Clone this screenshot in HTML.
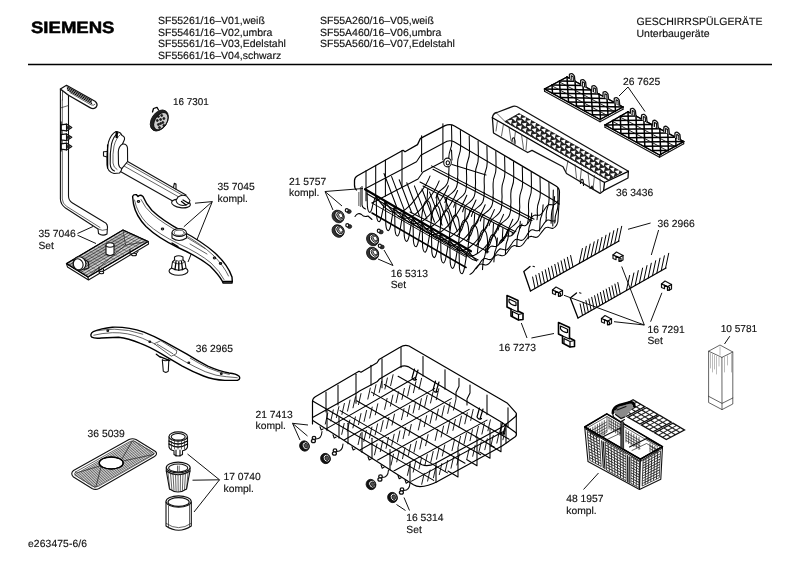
<!DOCTYPE html>
<html><head><meta charset="utf-8">
<style>
html,body{margin:0;padding:0;background:#fff;}
body{width:800px;height:566px;overflow:hidden;position:relative;}
svg{position:absolute;left:0;top:0;will-change:transform;}
text{font-family:"Liberation Sans",sans-serif;font-size:10.3px;fill:#111;}
text.lb{font-size:10.3px;}
text.s{font-size:9.9px;}
text.s2{font-size:10.1px;}
text.h{font-size:10.5px;}
text{stroke:#111;stroke-width:0.15px;text-rendering:geometricPrecision;}
.logo{font-weight:bold;font-size:16.4px;fill:#000;stroke:#000;stroke-width:0.5px;}
.p{fill:none;stroke:#111;stroke-width:1.1;stroke-linecap:round;stroke-linejoin:round;}
.k{fill:none;stroke:#000;stroke-width:1.3;stroke-linecap:round;stroke-linejoin:round;}
.w{fill:#fff;stroke:#111;stroke-width:1.1;stroke-linejoin:round;}
.t{fill:none;stroke:#222;stroke-width:0.7;stroke-linecap:round;stroke-linejoin:round;}
.tw{fill:#fff;stroke:#222;stroke-width:0.7;stroke-linejoin:round;}
.l{fill:none;stroke:#111;stroke-width:1;}
#ubasket .p{stroke-width:1.05;stroke:#000}
#lbasket .p{stroke-width:1.05;stroke:#000}
#ubasket .k{stroke-width:1.3}
#lbasket .k{stroke-width:1.2}
.g{fill:#999;stroke:#111;stroke-width:0.8;}
.d{fill:#222;stroke:#111;stroke-width:0.8;}
</style></head><body>
<svg width="800" height="566" viewBox="0 0 800 566">
<text class="logo" x="31" y="32.8" textLength="83.5" lengthAdjust="spacingAndGlyphs">SIEMENS</text>
<text x="158" y="24.0" class="h">SF55261/16–V01,weiß</text>
<text x="158" y="35.6" class="h">SF55461/16–V02,umbra</text>
<text x="158" y="47.1" class="h">SF55561/16–V03,Edelstahl</text>
<text x="158" y="58.7" class="h">SF55661/16–V04,schwarz</text>
<text x="320" y="24.0" class="h">SF55A260/16–V05,weiß</text>
<text x="320" y="35.6" class="h">SF55A460/16–V06,umbra</text>
<text x="320" y="47.1" class="h">SF55A560/16–V07,Edelstahl</text>
<text x="636.5" y="25.3" class="h">GESCHIRRSPÜLGERÄTE</text>
<text x="636.5" y="37.3" class="h">Unterbaugeräte</text>
<line x1="28" y1="64.5" x2="772" y2="64.5" stroke="#000" stroke-width="1.3"/>
<text x="173" y="105.1" class="s">16 7301</text>
<text x="217.5" y="190.3" class="lb">35 7045</text>
<text x="217.5" y="202.4" class="lb">kompl.</text>
<text x="38.5" y="236.6" class="lb">35 7046</text>
<text x="38.5" y="248.5" class="lb">Set</text>
<text x="289" y="185.0" class="lb">21 5757</text>
<text x="289" y="196.0" class="lb">kompl.</text>
<text x="390.7" y="276.6" class="lb">16 5313</text>
<text x="390.7" y="287.8" class="lb">Set</text>
<text x="623" y="85.0" class="lb">26 7625</text>
<text x="616" y="196" class="lb">36 3436</text>
<text x="657.5" y="227.2" class="lb">36 2966</text>
<text x="647.5" y="332.5" class="lb">16 7291</text>
<text x="647.5" y="344.3" class="lb">Set</text>
<text x="498.7" y="350.5" class="lb">16 7273</text>
<text x="720.7" y="332.3" class="s2">10 5781</text>
<text x="195.8" y="351.6" class="lb">36 2965</text>
<text x="255.5" y="417.7" class="lb">21 7413</text>
<text x="255.5" y="428.7" class="lb">kompl.</text>
<text x="87.6" y="436.5" class="lb">36 5039</text>
<text x="223.5" y="479.7" class="lb">17 0740</text>
<text x="223.5" y="492.2" class="lb">kompl.</text>
<text x="406.3" y="521.3" class="lb">16 5314</text>
<text x="406.3" y="533.3" class="lb">Set</text>
<text x="566.3" y="502.3" class="lb">48 1957</text>
<text x="566.3" y="514.3" class="lb">kompl.</text>
<text x="28" y="547" class="lb" style="letter-spacing:0.12px">e263475-6/6</text>
<path class="w" d="M60.4 89 L60.4 199 Q60.6 204.5 65.5 208 L98 229 L98.5 233.5 Q102.5 236.5 107 234 L107.3 229.5 Q108.5 224 104 222 L72.5 203 Q68.5 200.5 68.5 196 L68.5 92" />
<path class="t" d="M62.3 100 L62.3 199 Q62.5 203.5 66.5 206.3 L100 227.5" />
<path class="t" d="M98 229 Q102 231.5 107.3 229.5" />
<path class="w" d="M60.4 89 L66.5 85.3 L95 101.2 Q98.3 103.8 96.3 107 Q93.8 109.8 90 107.6 L68.5 95.2 Z" style="stroke-width:1.3"/>
<line class="k" x1="67.0" y1="86.9" x2="91.5" y2="100.6" style="stroke-width:1.0"/>
<line class="k" x1="67.2" y1="88.4" x2="91.7" y2="102.1" style="stroke-width:1.0"/>
<line class="k" x1="67.3" y1="89.9" x2="91.8" y2="103.6" style="stroke-width:1.0"/>
<path class="t" d="M70 92.6 L91 104.8 Q93.5 106 95 104.3" />
<path class="t" d="M60.4 89 L62.5 91 L68.5 95.2" />
<path class="t" d="M62.5 91 L62.5 100" />
<line class="t" x1="60.4" y1="108.0" x2="68.5" y2="105.5" />
<path class="w" d="M61 124.9 L66.5 124.1 L71.8 127.5 L66.5 130.9 L61 130.1 Z" style="stroke-width:1.2"/>
<path class="p" d="M66.5 124.1 L66.5 130.9" />
<ellipse class="d" cx="68.3" cy="127.5" rx="1.3" ry="1.5" />
<path class="w" d="M61 134.70000000000002 L66.5 133.9 L71.8 137.3 L66.5 140.70000000000002 L61 139.9 Z" style="stroke-width:1.2"/>
<path class="p" d="M66.5 133.9 L66.5 140.70000000000002" />
<ellipse class="d" cx="68.3" cy="137.3" rx="1.3" ry="1.5" />
<path class="w" d="M61 143.9 L66.5 143.1 L71.8 146.5 L66.5 149.9 L61 149.1 Z" style="stroke-width:1.2"/>
<path class="p" d="M66.5 143.1 L66.5 149.9" />
<ellipse class="d" cx="68.3" cy="146.5" rx="1.3" ry="1.5" />
<path class="k" d="M61 122 L61 151" />
<line class="l" x1="77.5" y1="233.5" x2="93.0" y2="226.5" />
<line class="l" x1="77.5" y1="235.2" x2="96.0" y2="243.5" />
<ellipse class="d" cx="159.3" cy="120.5" rx="7.8" ry="11.5" transform="rotate(33 159.3 120.5)" />
<ellipse class="w" cx="160.8" cy="121.2" rx="6.0" ry="9.6" transform="rotate(33 160.8 121.2)" style="fill:#ccc"/>
<ellipse class="d" cx="158.4" cy="116.5" rx="1.0" ry="1.0" />
<ellipse class="d" cx="161.7" cy="115.5" rx="1.0" ry="1.0" />
<ellipse class="d" cx="163.9" cy="118.5" rx="1.0" ry="1.0" />
<ellipse class="d" cx="157.3" cy="120.5" rx="1.0" ry="1.0" />
<ellipse class="d" cx="160.6" cy="119.5" rx="1.0" ry="1.0" />
<ellipse class="d" cx="162.8" cy="122.5" rx="1.0" ry="1.0" />
<ellipse class="d" cx="158.4" cy="124.5" rx="1.0" ry="1.0" />
<ellipse class="d" cx="160.6" cy="123.5" rx="1.0" ry="1.0" />
<ellipse class="d" cx="163.9" cy="125.5" rx="1.0" ry="1.0" />
<ellipse class="d" cx="159.5" cy="127.5" rx="1.0" ry="1.0" />
<path class="k" d="M152.5 112 L153.5 108.5 L157 107.3 L158.5 110" />
<path class="w" d="M125 160 L186 195 L174 201.8 L119.5 171 Z" />
<path class="t" d="M124 166 L178 196.5 M126 163 L183 195.5" />
<ellipse class="w" cx="181.0" cy="203.5" rx="9.5" ry="4.2" transform="rotate(8 181.0 203.5)" />
<path class="w" d="M176 200.5 Q177 205 183 205.5 Q189 205 190 200.5 L186.5 196 Q182 194 178 197 Z" />
<path class="k" d="M183 200 L189 203.5 M181.5 201.5 L186 205" />
<path class="p" d="M173.5 187.5 L174.3 183.3 L176 184 L176 189" />
<path class="w" d="M116 131.5 Q111 134 108.5 142 Q106.5 152 107 165 Q107.5 172 114 173.5 L119.5 173 Q121.5 171 121.8 168.6 L127.6 161.5 L127.5 148 Q127 143.5 122.5 144 L124.5 139.5 Q125 136.5 122 135.5 Q121 132 116 131.5 Z" />
<path class="p" d="M118 133 Q113.5 136 111.5 144 Q109.8 153 110.2 164 Q110.5 169.5 114.5 171" />
<path class="t" d="M120.5 134.5 Q116 138 114 146 Q112.5 154 113 163 Q113.3 167.5 117 169.5" />
<path class="p" d="M122.5 144 Q118.5 146.5 118.3 152 L118.5 164 Q119 167.5 121.8 168.6" />
<path class="k" d="M116.2 132 L116.2 137.5 M117.2 132 L117.2 137.5" />
<path class="p" d="M107.2 151.5 L103.5 151.8 L103.5 156 L107 157" />
<path class="k" d="M107.6 145 L107.6 168" />
<line class="l" x1="212.3" y1="201.6" x2="195.0" y2="203.2" />
<line class="l" x1="212.3" y1="201.6" x2="183.8" y2="226.8" />
<line class="l" x1="212.3" y1="201.6" x2="188.0" y2="262.0" />
<path class="w" d="M132.6 196.5 Q133.5 194 136.5 194.8 L138 196.5 Q140 194 143 196.5 Q146 204 152 210.5 Q163 221 182 231 Q202 241.5 215 253 Q228 265 232 277 L232.3 281.5 L222.5 281.5 Q219 275 210 266 Q198 256.5 178 247.5 Q158 238 146 226.5 Q136 216 133.5 204 Z" style="stroke-width:1.4;stroke:#000"/>
<path class="t" d="M134.5 200 Q137 213 147 223.5 Q159 234.5 179 244 Q199 253 211 263 Q220 271.5 224 279.5" />
<path class="t" d="M141 199.5 Q145 208 152 214 Q163 223.5 182 233.5 Q200 243 213 255 Q224 266 228.5 276" />
<path class="k" d="M222.5 281.5 L223 283 L232 283 L232.3 281.5" />
<path class="k" d="M172 243 L178 246.5" />
<ellipse class="p" cx="138.5" cy="201.5" rx="1.2" ry="0.9" />
<ellipse class="p" cx="162.5" cy="229.0" rx="1.2" ry="0.9" />
<ellipse class="p" cx="214.5" cy="258.0" rx="1.2" ry="0.9" />
<ellipse class="p" cx="220.5" cy="263.5" rx="1.2" ry="0.9" />
<path class="t" d="M186 237 L205 248.5 M190 244 L207 254" />
<path class="w" d="M172 232.5 L172 238 Q179 243 186.5 238 L186.5 232.5" />
<ellipse class="w" cx="179.2" cy="232.5" rx="7.2" ry="3.9" />
<ellipse class="t" cx="179.2" cy="232.8" rx="5.0" ry="2.6" />
<ellipse class="w" cx="178.5" cy="271.0" rx="9.5" ry="4.2" />
<path class="w" d="M171.5 268 L172.5 262 L174.5 260 L174.5 257 Q178.5 254.5 183 257 L183 260 L185 262 L186 268 Q179 272.5 171.5 268 Z" />
<path class="t" d="M174.5 260 Q178.5 262.5 183 260 M172.5 262 Q179 266 185 262" />
<path class="k" d="M176 261.5 L175 269.5 M178.8 262 L178.8 270.3 M181.5 261.5 L182.5 269.5" />
<path class="g" d="M66.5 263.6 L123 230 L148.2 241.5 L88 277 Z" style="fill:#cfcfcf"/>
<path class="g" d="M69.5 264 L122.5 233 L124 245.5 L86 270 Z" style="fill:#b4b4b4;stroke:none"/>
<line class="t" x1="69.0" y1="263.5" x2="88.0" y2="275.5" style="stroke:#666;stroke-width:0.55"/>
<line class="t" x1="73.2" y1="261.0" x2="92.5" y2="272.9" style="stroke:#666;stroke-width:0.55"/>
<line class="t" x1="77.3" y1="258.6" x2="97.0" y2="270.3" style="stroke:#666;stroke-width:0.55"/>
<line class="t" x1="81.5" y1="256.1" x2="101.5" y2="267.7" style="stroke:#666;stroke-width:0.55"/>
<line class="t" x1="85.6" y1="253.7" x2="106.0" y2="265.0" style="stroke:#666;stroke-width:0.55"/>
<line class="t" x1="89.8" y1="251.2" x2="110.5" y2="262.4" style="stroke:#666;stroke-width:0.55"/>
<line class="t" x1="93.9" y1="248.7" x2="115.0" y2="259.8" style="stroke:#666;stroke-width:0.55"/>
<line class="t" x1="98.1" y1="246.3" x2="119.5" y2="257.2" style="stroke:#666;stroke-width:0.55"/>
<line class="t" x1="102.2" y1="243.8" x2="124.0" y2="254.6" style="stroke:#666;stroke-width:0.55"/>
<line class="t" x1="106.4" y1="241.3" x2="128.5" y2="252.0" style="stroke:#666;stroke-width:0.55"/>
<line class="t" x1="110.5" y1="238.9" x2="133.0" y2="249.3" style="stroke:#666;stroke-width:0.55"/>
<line class="t" x1="114.7" y1="236.4" x2="137.5" y2="246.7" style="stroke:#666;stroke-width:0.55"/>
<line class="t" x1="118.8" y1="234.0" x2="142.0" y2="244.1" style="stroke:#666;stroke-width:0.55"/>
<line class="t" x1="123.0" y1="231.5" x2="146.5" y2="241.5" style="stroke:#666;stroke-width:0.55"/>
<line class="t" x1="68.9" y1="265.1" x2="125.8" y2="231.3" style="stroke:#222;stroke-width:0.7"/>
<line class="t" x1="71.3" y1="266.6" x2="128.6" y2="232.6" style="stroke:#222;stroke-width:0.7"/>
<line class="t" x1="73.7" y1="268.1" x2="131.4" y2="233.8" style="stroke:#222;stroke-width:0.7"/>
<line class="t" x1="76.1" y1="269.6" x2="134.2" y2="235.1" style="stroke:#222;stroke-width:0.7"/>
<line class="t" x1="78.4" y1="271.0" x2="137.0" y2="236.4" style="stroke:#222;stroke-width:0.7"/>
<line class="t" x1="80.8" y1="272.5" x2="139.8" y2="237.7" style="stroke:#222;stroke-width:0.7"/>
<line class="t" x1="83.2" y1="274.0" x2="142.6" y2="238.9" style="stroke:#222;stroke-width:0.7"/>
<line class="t" x1="85.6" y1="275.5" x2="145.4" y2="240.2" style="stroke:#222;stroke-width:0.7"/>
<path class="k" d="M66.5 263.6 L123 230 L148.2 241.5 L88 277 Z" />
<path class="p" d="M66.5 263.6 L67.5 267 L88.5 280 L88 277 M88.5 280 L148.6 244 L148.2 241.5" />
<path class="t" d="M123 230 L125.5 245 L148.2 241.5 M125.5 245 L88 277" />
<path class="w" d="M106 245 L106 254 Q110 257 114 254 L114 245" />
<ellipse class="w" cx="110.0" cy="245.0" rx="4.0" ry="2.2" />
<ellipse class="w" cx="79.5" cy="263.5" rx="6.3" ry="6.8" transform="rotate(-20 79.5 263.5)" />
<ellipse class="w" cx="78.2" cy="264.3" rx="4.8" ry="5.6" transform="rotate(-20 78.2 264.3)" />
<path class="p" d="M84.5 259.5 L88.5 262 L88.8 268 L84 269.5" />
<path class="p" d="M99 267.5 L99 272 L103 273 L103.5 269 M130 249.5 L130 254 L135 255 L138 251.5" />
<ellipse class="w" cx="101.5" cy="272.5" rx="2.2" ry="1.3" />
<ellipse class="w" cx="134.0" cy="254.5" rx="2.5" ry="1.3" />
<g transform="translate(0.3,1.2)">
<path class="w" d="M90.6 333.5 Q91 331.5 93 330.5 Q101 327 112 326 Q128 325.5 143.7 331 Q155 335.5 165 341 L186.2 352.7 Q198 360 207.5 365 Q219 370 228.7 371.8 Q236 372.5 238.8 375 Q240.5 377.5 237.5 379 L224.5 379.2 Q213 378.5 203.2 374.8 Q192 370.5 182 365 L160.7 352.5 Q149 345.5 139.5 342 Q128 337 118.2 336 L101.2 336.8 Q94 337.5 91.5 336 Q90.3 335 90.6 333.5 Z" style="stroke-width:1.4;stroke:#000"/>
<path class="t" d="M93.5 334 Q101 332 112 331.5 Q127 331 142 337 Q153 341.5 163 347.5 L184 360 Q195 366 205 370.5 Q216 375 226 375.5 L237 376.5" />
<path class="t" d="M97 329.5 Q105 328.2 114 328 Q128 328 142.5 333 M190 357 Q200 363 208 366.8 Q219 371.5 229 373.2" />
<path class="tw" d="M154 342.5 L160.5 339.5 L176.5 349.5 L176 352.5 L171 355 Z" />
<path class="t" d="M157 343 L172.5 352.5" />
<ellipse class="p" cx="149.5" cy="340.5" rx="0.9" ry="0.7" />
<ellipse class="p" cx="188.5" cy="361.5" rx="0.9" ry="0.7" />
<ellipse class="p" cx="107.5" cy="329.5" rx="0.9" ry="0.7" />
<ellipse class="p" cx="221.0" cy="372.5" rx="0.9" ry="0.7" />
<path class="w" d="M162 358.5 L163 370 Q165.5 372.5 168 370 L168.5 358.5 Q165 360.5 162 358.5 Z" />
<path class="k" d="M159.5 355.5 L169.5 359.5 M156 353 L160 356" />
</g>
<path class="w" d="M73.5 470.5 L129 439.5 Q132.5 438 136 439.5 L155.5 451.5 Q158 454 154.5 456.5 L99 488.5 Q95.5 490.3 92 488.5 L73.5 477 Q70 473.5 73.5 470.5 Z" />
<line class="t" x1="74.8" y1="474.8" x2="133.9" y2="440.6" style="stroke:#222;stroke-width:0.7"/>
<line class="t" x1="76.1" y1="475.7" x2="135.3" y2="441.5" style="stroke:#222;stroke-width:0.7"/>
<line class="t" x1="77.4" y1="476.5" x2="136.6" y2="442.3" style="stroke:#222;stroke-width:0.7"/>
<line class="t" x1="78.7" y1="477.4" x2="138.0" y2="443.1" style="stroke:#222;stroke-width:0.7"/>
<line class="t" x1="80.0" y1="478.2" x2="139.4" y2="444.0" style="stroke:#222;stroke-width:0.7"/>
<line class="t" x1="81.3" y1="479.0" x2="140.8" y2="444.8" style="stroke:#222;stroke-width:0.7"/>
<line class="t" x1="82.6" y1="479.9" x2="142.2" y2="445.6" style="stroke:#222;stroke-width:0.7"/>
<line class="t" x1="83.9" y1="480.7" x2="143.6" y2="446.5" style="stroke:#222;stroke-width:0.7"/>
<line class="t" x1="85.1" y1="481.6" x2="144.9" y2="447.3" style="stroke:#222;stroke-width:0.7"/>
<line class="t" x1="86.4" y1="482.4" x2="146.3" y2="448.2" style="stroke:#222;stroke-width:0.7"/>
<line class="t" x1="87.7" y1="483.3" x2="147.7" y2="449.0" style="stroke:#222;stroke-width:0.7"/>
<line class="t" x1="89.0" y1="484.1" x2="149.1" y2="449.8" style="stroke:#222;stroke-width:0.7"/>
<line class="t" x1="90.3" y1="484.9" x2="150.5" y2="450.7" style="stroke:#222;stroke-width:0.7"/>
<line class="t" x1="91.6" y1="485.8" x2="151.9" y2="451.5" style="stroke:#222;stroke-width:0.7"/>
<line class="t" x1="92.9" y1="486.6" x2="153.2" y2="452.3" style="stroke:#222;stroke-width:0.7"/>
<line class="t" x1="94.2" y1="487.5" x2="154.6" y2="453.2" style="stroke:#222;stroke-width:0.7"/>
<path class="t" d="M76 473 L100 466 M132 441.5 L122 459 M153.5 454.5 L123 461 M96 486.5 L101 467" />
<ellipse class="w" cx="111.2" cy="463.0" rx="12.0" ry="6.0" />
<ellipse class="k" cx="111.2" cy="463.0" rx="12.0" ry="6.0" />
<path class="t" d="M75.5 472 L130 441.5 Q132.5 440.3 135 441.5 L153 452.5 Q154.5 454 152.5 455.3 L98.5 486.3 Q95.5 487.8 93 486.3 L75.5 475.5 Q73.5 473.5 75.5 472 Z" />
<path class="w" d="M169 436.5 L169 447 Q170 450 174 450.8 L174 454.5 Q178 457.5 182.5 454.5 L182.5 450.8 Q186.5 450 187.5 447 L187.5 436.5" />
<ellipse class="w" cx="178.2" cy="436.5" rx="9.2" ry="4.6" />
<ellipse class="p" cx="178.2" cy="436.8" rx="7.0" ry="3.3" />
<path class="k" d="M169 441 Q178 447 187.5 441 M169 444 Q178 450 187.5 444" />
<line class="t" x1="171.5" y1="441.0" x2="171.5" y2="449.0" />
<line class="t" x1="174.5" y1="441.0" x2="174.5" y2="449.0" />
<line class="t" x1="178.0" y1="441.0" x2="178.0" y2="449.0" />
<line class="t" x1="181.5" y1="441.0" x2="181.5" y2="449.0" />
<line class="t" x1="184.5" y1="441.0" x2="184.5" y2="449.0" />
<path class="p" d="M176 450 L176 456 M180 450 L180 456" />
<path class="w" d="M166.3 467.5 L166.3 471 L169.5 489 Q178 495 186.5 489 L190 471 L190 467.5" />
<ellipse class="w" cx="178.2" cy="467.5" rx="11.9" ry="5.4" />
<ellipse class="p" cx="178.2" cy="468.0" rx="9.6" ry="4.0" />
<path class="p" d="M166.3 471 Q178 478.5 190 471" />
<line class="t" x1="168.0" y1="472.6" x2="169.8" y2="489.1" />
<line class="t" x1="170.5" y1="473.2" x2="171.9" y2="489.7" />
<line class="t" x1="173.0" y1="473.8" x2="174.0" y2="490.3" />
<line class="t" x1="175.5" y1="474.4" x2="176.1" y2="490.9" />
<line class="t" x1="178.0" y1="475.0" x2="178.2" y2="491.5" />
<line class="t" x1="180.5" y1="474.4" x2="180.3" y2="490.9" />
<line class="t" x1="183.0" y1="473.8" x2="182.4" y2="490.3" />
<line class="t" x1="185.5" y1="473.2" x2="184.5" y2="489.7" />
<line class="t" x1="188.0" y1="472.6" x2="186.6" y2="489.1" />
<path class="t" d="M177.5 466 L177.5 472 M179.2 466 L179.2 472" />
<path class="w" d="M166 501.5 L166 526 Q178.5 534.5 191.3 526 L191.3 501.5" />
<ellipse class="w" cx="178.6" cy="501.5" rx="12.6" ry="5.6" />
<ellipse class="p" cx="178.6" cy="502.0" rx="10.6" ry="4.4" />
<path class="t" d="M166.3 523.5 Q178.5 532 191 523.5" />
<line class="t" x1="168.5" y1="506.0" x2="168.5" y2="527.5" />
<line class="t" x1="189.5" y1="505.0" x2="189.5" y2="526.5" />
<line class="l" x1="219.5" y1="479.8" x2="187.5" y2="454.0" />
<line class="l" x1="219.5" y1="479.8" x2="192.5" y2="480.2" />
<line class="l" x1="219.5" y1="479.8" x2="194.0" y2="512.0" />
<path class="tw" d="M708.6 351.2 L720 345 L732.8 352 L721.9 357.4 Z" />
<path class="t" d="M708.6 351.2 L708.6 402.5 L722 409.6 L732.8 404 L732.8 352 M721.9 357.4 L722 409.6 M708.6 396.3 L722 403.4 L732.8 398" />
<path class="t" d="M710.5 353.5 L710.5 368 M712.5 354.5 L712.5 372 M714.5 355.5 L714.5 369 M716.5 356.5 L716.5 374 M719 357.5 L719 366 M720 347 L720 355 M724.5 357.5 L724.5 372 M727.5 356 L727.5 365 M731.5 354 L731.5 372" style="stroke:#777;stroke-width:0.5"/>
<line class="l" x1="729.8" y1="336.2" x2="724.5" y2="344.0" />
<path class="w" d="M544.5 89.0 L567.0 77.0 L623.0 107.0 L600.0 119.5 Z" />
<line class="k" x1="544.5" y1="89.0" x2="544.5" y2="89.0" style="stroke-width:1.5"/>
<line class="k" x1="567.0" y1="77.0" x2="567.0" y2="77.0" style="stroke-width:1.5"/>
<line class="k" x1="552.0" y1="85.0" x2="552.5" y2="93.3" style="stroke-width:1.5"/>
<line class="k" x1="575.0" y1="81.3" x2="559.5" y2="81.0" style="stroke-width:1.5"/>
<line class="k" x1="559.5" y1="81.0" x2="560.5" y2="97.6" style="stroke-width:1.5"/>
<line class="k" x1="583.0" y1="85.6" x2="552.0" y2="85.0" style="stroke-width:1.5"/>
<line class="k" x1="567.0" y1="77.0" x2="568.5" y2="101.9" style="stroke-width:1.5"/>
<line class="k" x1="591.0" y1="89.9" x2="544.5" y2="89.0" style="stroke-width:1.5"/>
<line class="k" x1="575.0" y1="81.3" x2="576.5" y2="106.1" style="stroke-width:1.5"/>
<line class="k" x1="599.0" y1="94.1" x2="552.5" y2="93.3" style="stroke-width:1.5"/>
<line class="k" x1="583.0" y1="85.6" x2="584.5" y2="110.4" style="stroke-width:1.5"/>
<line class="k" x1="607.0" y1="98.4" x2="560.5" y2="97.6" style="stroke-width:1.5"/>
<line class="k" x1="591.0" y1="89.9" x2="592.5" y2="114.7" style="stroke-width:1.5"/>
<line class="k" x1="615.0" y1="102.7" x2="568.5" y2="101.9" style="stroke-width:1.5"/>
<line class="k" x1="599.0" y1="94.1" x2="600.5" y2="119.0" style="stroke-width:1.5"/>
<line class="k" x1="623.0" y1="107.0" x2="576.5" y2="106.1" style="stroke-width:1.5"/>
<line class="k" x1="607.0" y1="98.4" x2="608.0" y2="115.0" style="stroke-width:1.5"/>
<line class="k" x1="615.5" y1="111.0" x2="584.5" y2="110.4" style="stroke-width:1.5"/>
<line class="k" x1="615.0" y1="102.7" x2="615.5" y2="111.0" style="stroke-width:1.5"/>
<line class="k" x1="608.0" y1="115.0" x2="592.5" y2="114.7" style="stroke-width:1.5"/>
<line class="k" x1="623.0" y1="107.0" x2="623.0" y2="107.0" style="stroke-width:1.5"/>
<line class="k" x1="600.5" y1="119.0" x2="600.5" y2="119.0" style="stroke-width:1.5"/>
<line class="p" x1="559.6" y1="82.0" x2="615.6" y2="112.0" style="stroke-width:0.9"/>
<line class="p" x1="552.1" y1="85.9" x2="608.1" y2="115.9" style="stroke-width:0.9"/>
<path class="k" d="M544.5 89.0 L567.0 77.0 L623.0 107.0 L600.0 119.5 Z" />
<path class="p" d="M544.5 91.2 L600.0 121.7 L623.0 109.2" />
<line class="p" x1="544.5" y1="89.0" x2="544.5" y2="91.2" />
<line class="p" x1="600.0" y1="119.5" x2="600.0" y2="121.7" />
<line class="p" x1="623.0" y1="107.0" x2="623.0" y2="109.2" />
<path class="w" d="M569.3 79.0 L569.5 74.3 Q572.0 72.2 574.4 76.0 L575.0 81.7" style="stroke-width:1.3"/>
<path class="p" d="M571.1 79.7 L571.3 75.7 L573.2 76.8 L573.4 80.8" />
<path class="w" d="M580.5 85.0 L580.7 80.3 Q583.2 78.2 585.6 82.0 L586.2 87.7" style="stroke-width:1.3"/>
<path class="p" d="M582.3 85.7 L582.5 81.7 L584.4 82.8 L584.6 86.8" />
<path class="w" d="M591.7 91.0 L591.9 86.3 Q594.4 84.2 596.8 88.0 L597.4 93.7" style="stroke-width:1.3"/>
<path class="p" d="M593.5 91.7 L593.7 87.7 L595.6 88.8 L595.8 92.8" />
<path class="w" d="M602.9 97.0 L603.1 92.3 Q605.6 90.2 608.0 94.0 L608.6 99.7" style="stroke-width:1.3"/>
<path class="p" d="M604.7 97.7 L604.9 93.7 L606.8 94.8 L607.0 98.8" />
<path class="w" d="M614.1 103.0 L614.3 98.3 Q616.8 96.2 619.2 100.0 L619.8 105.7" style="stroke-width:1.3"/>
<path class="p" d="M615.9 103.7 L616.1 99.7 L618.0 100.8 L618.2 104.8" />
<path class="w" d="M605.0 125.0 L628.0 111.8 L683.7 141.6 L659.5 155.0 Z" />
<line class="k" x1="605.0" y1="125.0" x2="605.0" y2="125.0" style="stroke-width:1.5"/>
<line class="k" x1="628.0" y1="111.8" x2="628.0" y2="111.8" style="stroke-width:1.5"/>
<line class="k" x1="612.7" y1="120.6" x2="613.0" y2="129.3" style="stroke-width:1.5"/>
<line class="k" x1="636.0" y1="116.1" x2="620.3" y2="116.2" style="stroke-width:1.5"/>
<line class="k" x1="620.3" y1="116.2" x2="620.9" y2="133.5" style="stroke-width:1.5"/>
<line class="k" x1="643.9" y1="120.3" x2="612.7" y2="120.6" style="stroke-width:1.5"/>
<line class="k" x1="628.0" y1="111.8" x2="628.9" y2="137.8" style="stroke-width:1.5"/>
<line class="k" x1="651.9" y1="124.6" x2="605.0" y2="125.0" style="stroke-width:1.5"/>
<line class="k" x1="636.0" y1="116.1" x2="636.8" y2="142.0" style="stroke-width:1.5"/>
<line class="k" x1="659.8" y1="128.8" x2="613.0" y2="129.3" style="stroke-width:1.5"/>
<line class="k" x1="643.9" y1="120.3" x2="644.8" y2="146.3" style="stroke-width:1.5"/>
<line class="k" x1="667.8" y1="133.1" x2="620.9" y2="133.5" style="stroke-width:1.5"/>
<line class="k" x1="651.9" y1="124.6" x2="652.7" y2="150.5" style="stroke-width:1.5"/>
<line class="k" x1="675.7" y1="137.3" x2="628.9" y2="137.8" style="stroke-width:1.5"/>
<line class="k" x1="659.8" y1="128.8" x2="660.7" y2="154.8" style="stroke-width:1.5"/>
<line class="k" x1="683.7" y1="141.6" x2="636.8" y2="142.0" style="stroke-width:1.5"/>
<line class="k" x1="667.8" y1="133.1" x2="668.4" y2="150.4" style="stroke-width:1.5"/>
<line class="k" x1="676.0" y1="146.0" x2="644.8" y2="146.3" style="stroke-width:1.5"/>
<line class="k" x1="675.7" y1="137.3" x2="676.0" y2="146.0" style="stroke-width:1.5"/>
<line class="k" x1="668.4" y1="150.4" x2="652.7" y2="150.5" style="stroke-width:1.5"/>
<line class="k" x1="683.7" y1="141.6" x2="683.7" y2="141.6" style="stroke-width:1.5"/>
<line class="k" x1="660.7" y1="154.8" x2="660.7" y2="154.8" style="stroke-width:1.5"/>
<line class="p" x1="620.4" y1="117.2" x2="676.1" y2="147.0" style="stroke-width:0.9"/>
<line class="p" x1="612.8" y1="121.5" x2="668.5" y2="151.3" style="stroke-width:0.9"/>
<path class="k" d="M605.0 125.0 L628.0 111.8 L683.7 141.6 L659.5 155.0 Z" />
<path class="p" d="M605.0 127.2 L659.5 157.2 L683.7 143.8" />
<line class="p" x1="605.0" y1="125.0" x2="605.0" y2="127.2" />
<line class="p" x1="659.5" y1="155.0" x2="659.5" y2="157.2" />
<line class="p" x1="683.7" y1="141.6" x2="683.7" y2="143.8" />
<path class="w" d="M630.3 113.8 L630.5 109.1 Q633.0 107.0 635.4 110.8 L636.0 116.5" style="stroke-width:1.3"/>
<path class="p" d="M632.1 114.5 L632.3 110.5 L634.2 111.6 L634.4 115.6" />
<path class="w" d="M641.4 119.8 L641.6 115.0 Q644.1 113.0 646.5 116.8 L647.1 122.5" style="stroke-width:1.3"/>
<path class="p" d="M643.2 120.5 L643.4 116.5 L645.3 117.5 L645.5 121.5" />
<path class="w" d="M652.6 125.7 L652.8 121.0 Q655.3 118.9 657.7 122.7 L658.3 128.4" style="stroke-width:1.3"/>
<path class="p" d="M654.4 126.4 L654.6 122.4 L656.5 123.5 L656.7 127.5" />
<path class="w" d="M663.7 131.7 L663.9 127.0 Q666.4 124.9 668.8 128.7 L669.4 134.4" style="stroke-width:1.3"/>
<path class="p" d="M665.5 132.4 L665.7 128.4 L667.6 129.5 L667.8 133.5" />
<path class="w" d="M674.8 137.6 L675.0 132.9 Q677.5 130.8 679.9 134.6 L680.5 140.3" style="stroke-width:1.3"/>
<path class="p" d="M676.6 138.3 L676.8 134.3 L678.7 135.4 L678.9 139.4" />
<line class="l" x1="628.0" y1="87.0" x2="619.0" y2="96.0" />
<line class="l" x1="628.0" y1="87.0" x2="645.0" y2="111.5" />
<path class="w" d="M492.4 117.7 Q493 113 497 112.5 L513 106.3 Q516 105.6 518.5 107.5 L628.4 171.3 L628 178 L603.6 190.7 L600 193.4 L566.5 173.5 L563 166.8 L532 150.4 L527.7 152.5 L493.5 133 Z" style="stroke-width:1.3"/>
<path class="k" d="M492.4 117.7 L604.5 182.5 L628.4 171.3 M604.5 182.5 L603.6 190.7" />
<path class="d" d="M505.0 121.5 L519.0 113.5 L622.0 172.2 L608.0 180.0 Z" style="fill:#222"/>
<path class="w" d="M516.6 115.2 L521.4 114.4 L520.3 118.8 Z" style="stroke:none"/>
<path class="w" d="M512.0 117.9 L516.8 117.1 L515.7 121.5 Z" style="stroke:none"/>
<path class="w" d="M507.3 120.6 L512.1 119.8 L511.0 124.2 Z" style="stroke:none"/>
<path class="w" d="M521.5 118.0 L526.3 117.2 L525.2 121.6 Z" style="stroke:none"/>
<path class="w" d="M516.9 120.7 L521.7 119.9 L520.6 124.3 Z" style="stroke:none"/>
<path class="w" d="M512.2 123.4 L517.0 122.6 L515.9 127.0 Z" style="stroke:none"/>
<path class="w" d="M526.4 120.8 L531.2 120.0 L530.1 124.4 Z" style="stroke:none"/>
<path class="w" d="M521.8 123.5 L526.6 122.7 L525.5 127.1 Z" style="stroke:none"/>
<path class="w" d="M517.1 126.2 L521.9 125.4 L520.8 129.8 Z" style="stroke:none"/>
<path class="w" d="M531.3 123.6 L536.1 122.8 L535.0 127.2 Z" style="stroke:none"/>
<path class="w" d="M526.7 126.3 L531.5 125.5 L530.4 129.9 Z" style="stroke:none"/>
<path class="w" d="M522.0 128.9 L526.8 128.1 L525.7 132.5 Z" style="stroke:none"/>
<path class="w" d="M536.2 126.4 L541.0 125.6 L539.9 130.0 Z" style="stroke:none"/>
<path class="w" d="M531.6 129.1 L536.4 128.3 L535.3 132.7 Z" style="stroke:none"/>
<path class="w" d="M526.9 131.7 L531.7 130.9 L530.6 135.3 Z" style="stroke:none"/>
<path class="w" d="M541.1 129.2 L545.9 128.4 L544.8 132.8 Z" style="stroke:none"/>
<path class="w" d="M536.5 131.9 L541.3 131.1 L540.2 135.5 Z" style="stroke:none"/>
<path class="w" d="M531.8 134.5 L536.6 133.7 L535.5 138.1 Z" style="stroke:none"/>
<path class="w" d="M546.0 132.0 L550.8 131.2 L549.7 135.6 Z" style="stroke:none"/>
<path class="w" d="M541.4 134.7 L546.2 133.9 L545.1 138.3 Z" style="stroke:none"/>
<path class="w" d="M536.7 137.3 L541.5 136.5 L540.4 140.9 Z" style="stroke:none"/>
<path class="w" d="M551.0 134.8 L555.8 134.0 L554.7 138.4 Z" style="stroke:none"/>
<path class="w" d="M546.3 137.5 L551.1 136.7 L550.0 141.1 Z" style="stroke:none"/>
<path class="w" d="M541.6 140.1 L546.4 139.3 L545.3 143.7 Z" style="stroke:none"/>
<path class="w" d="M555.9 137.6 L560.7 136.8 L559.6 141.2 Z" style="stroke:none"/>
<path class="w" d="M551.2 140.3 L556.0 139.5 L554.9 143.9 Z" style="stroke:none"/>
<path class="w" d="M546.5 142.9 L551.3 142.1 L550.2 146.5 Z" style="stroke:none"/>
<path class="w" d="M560.8 140.4 L565.6 139.6 L564.5 144.0 Z" style="stroke:none"/>
<path class="w" d="M556.1 143.1 L560.9 142.3 L559.8 146.7 Z" style="stroke:none"/>
<path class="w" d="M551.4 145.7 L556.2 144.9 L555.1 149.3 Z" style="stroke:none"/>
<path class="w" d="M565.7 143.2 L570.5 142.4 L569.4 146.8 Z" style="stroke:none"/>
<path class="w" d="M561.0 145.8 L565.8 145.0 L564.7 149.4 Z" style="stroke:none"/>
<path class="w" d="M556.3 148.5 L561.1 147.7 L560.0 152.1 Z" style="stroke:none"/>
<path class="w" d="M570.6 146.0 L575.4 145.2 L574.3 149.6 Z" style="stroke:none"/>
<path class="w" d="M565.9 148.6 L570.7 147.8 L569.6 152.2 Z" style="stroke:none"/>
<path class="w" d="M561.2 151.3 L566.0 150.5 L564.9 154.9 Z" style="stroke:none"/>
<path class="w" d="M575.5 148.8 L580.3 148.0 L579.2 152.4 Z" style="stroke:none"/>
<path class="w" d="M570.8 151.4 L575.6 150.6 L574.5 155.0 Z" style="stroke:none"/>
<path class="w" d="M566.1 154.1 L570.9 153.3 L569.8 157.7 Z" style="stroke:none"/>
<path class="w" d="M580.4 151.6 L585.2 150.8 L584.1 155.2 Z" style="stroke:none"/>
<path class="w" d="M575.7 154.2 L580.5 153.4 L579.4 157.8 Z" style="stroke:none"/>
<path class="w" d="M571.0 156.9 L575.8 156.1 L574.7 160.5 Z" style="stroke:none"/>
<path class="w" d="M585.3 154.4 L590.1 153.6 L589.0 158.0 Z" style="stroke:none"/>
<path class="w" d="M580.6 157.0 L585.4 156.2 L584.3 160.6 Z" style="stroke:none"/>
<path class="w" d="M576.0 159.7 L580.8 158.9 L579.7 163.3 Z" style="stroke:none"/>
<path class="w" d="M590.2 157.2 L595.0 156.4 L593.9 160.8 Z" style="stroke:none"/>
<path class="w" d="M585.5 159.8 L590.3 159.0 L589.2 163.4 Z" style="stroke:none"/>
<path class="w" d="M580.9 162.5 L585.7 161.7 L584.6 166.1 Z" style="stroke:none"/>
<path class="w" d="M595.1 160.0 L599.9 159.2 L598.8 163.6 Z" style="stroke:none"/>
<path class="w" d="M590.4 162.6 L595.2 161.8 L594.1 166.2 Z" style="stroke:none"/>
<path class="w" d="M585.8 165.3 L590.6 164.5 L589.5 168.9 Z" style="stroke:none"/>
<path class="w" d="M600.0 162.8 L604.8 161.9 L603.7 166.3 Z" style="stroke:none"/>
<path class="w" d="M595.3 165.4 L600.1 164.6 L599.0 169.0 Z" style="stroke:none"/>
<path class="w" d="M590.7 168.1 L595.5 167.3 L594.4 171.7 Z" style="stroke:none"/>
<path class="w" d="M604.9 165.5 L609.7 164.7 L608.6 169.1 Z" style="stroke:none"/>
<path class="w" d="M600.2 168.2 L605.0 167.4 L603.9 171.8 Z" style="stroke:none"/>
<path class="w" d="M595.6 170.9 L600.4 170.1 L599.3 174.5 Z" style="stroke:none"/>
<path class="w" d="M609.8 168.3 L614.6 167.5 L613.5 171.9 Z" style="stroke:none"/>
<path class="w" d="M605.1 171.0 L609.9 170.2 L608.8 174.6 Z" style="stroke:none"/>
<path class="w" d="M600.5 173.7 L605.3 172.9 L604.2 177.3 Z" style="stroke:none"/>
<path class="w" d="M614.7 171.1 L619.5 170.3 L618.4 174.7 Z" style="stroke:none"/>
<path class="w" d="M610.0 173.8 L614.8 173.0 L613.7 177.4 Z" style="stroke:none"/>
<path class="w" d="M605.4 176.5 L610.2 175.7 L609.1 180.1 Z" style="stroke:none"/>
<path class="t" d="M497 113.5 L505 121.5 M505 121.5 L608 180 L622 172.2" />
<path class="t" d="M497.5 120.5 L496 131 M503.5 124 L501.5 136 M509 127 L511 140.5 M515.5 131 L514 143 M521.5 134.5 L523.5 148.5 M527 138 L526 150" />
<path class="p" d="M512 142 Q512 137 514.3 138 Q515.3 140.5 515 144" />
<path class="t" d="M568 160.5 L566 171.5 M575 164.5 L576.5 178 M581.5 168 L580 182 M588 172 L589.5 186.5 M594.5 175.5 L593 189 M600 179 L600.5 192" />
<path class="p" d="M580.5 183.5 Q580.5 178.5 582.8 179.5 Q583.8 182 583.5 185.5" />
<path class="p" d="M590 188.5 L592 186 L593.5 189.5" />
<line class="k" x1="530.5" y1="291.0" x2="619.0" y2="241.0" style="stroke-width:1.3"/>
<path class="k" d="M530.5 291.0 L523.8 271.5 L530.0 266.5" />
<line class="p" x1="533.0" y1="266.2" x2="534.5" y2="266.7" />
<line class="k" x1="535.0" y1="288.5" x2="532.6" y2="277.0" style="stroke-width:1.0"/>
<line class="k" x1="538.2" y1="286.7" x2="535.8" y2="275.2" style="stroke-width:1.0"/>
<line class="k" x1="541.3" y1="284.9" x2="538.9" y2="273.4" style="stroke-width:1.0"/>
<line class="k" x1="544.5" y1="283.1" x2="542.1" y2="271.6" style="stroke-width:1.0"/>
<line class="k" x1="547.7" y1="281.3" x2="545.3" y2="269.8" style="stroke-width:1.0"/>
<line class="k" x1="550.8" y1="279.5" x2="548.4" y2="268.0" style="stroke-width:1.0"/>
<line class="k" x1="554.0" y1="277.7" x2="551.6" y2="266.2" style="stroke-width:1.0"/>
<line class="k" x1="557.2" y1="275.9" x2="554.8" y2="264.4" style="stroke-width:1.0"/>
<line class="k" x1="560.3" y1="274.2" x2="557.9" y2="262.7" style="stroke-width:1.0"/>
<line class="k" x1="563.5" y1="272.4" x2="561.1" y2="260.9" style="stroke-width:1.0"/>
<line class="k" x1="566.6" y1="270.6" x2="564.2" y2="259.1" style="stroke-width:1.0"/>
<line class="k" x1="569.8" y1="268.8" x2="567.4" y2="257.3" style="stroke-width:1.0"/>
<line class="k" x1="573.0" y1="267.0" x2="570.6" y2="255.5" style="stroke-width:1.0"/>
<line class="k" x1="579.2" y1="263.5" x2="582.4" y2="248.5" style="stroke-width:1.0"/>
<line class="k" x1="583.1" y1="261.3" x2="586.3" y2="246.3" style="stroke-width:1.0"/>
<line class="k" x1="587.0" y1="259.1" x2="590.2" y2="244.1" style="stroke-width:1.0"/>
<line class="k" x1="591.0" y1="256.8" x2="594.2" y2="241.8" style="stroke-width:1.0"/>
<line class="k" x1="594.9" y1="254.6" x2="598.1" y2="239.6" style="stroke-width:1.0"/>
<line class="k" x1="598.8" y1="252.4" x2="602.0" y2="237.4" style="stroke-width:1.0"/>
<line class="k" x1="602.8" y1="250.2" x2="606.0" y2="235.2" style="stroke-width:1.0"/>
<line class="k" x1="606.7" y1="247.9" x2="609.9" y2="232.9" style="stroke-width:1.0"/>
<line class="k" x1="610.6" y1="245.7" x2="613.8" y2="230.7" style="stroke-width:1.0"/>
<line class="k" x1="614.6" y1="243.5" x2="617.8" y2="228.5" style="stroke-width:1.0"/>
<line class="k" x1="618.5" y1="241.3" x2="621.7" y2="226.3" style="stroke-width:1.0"/>
<line class="k" x1="578.0" y1="318.0" x2="666.0" y2="268.0" style="stroke-width:1.3"/>
<path class="k" d="M578.0 318.0 L570.3 298.0 L576.5 293.0" />
<line class="p" x1="579.5" y1="292.7" x2="581.0" y2="293.2" />
<line class="k" x1="582.5" y1="315.4" x2="580.1" y2="303.9" style="stroke-width:1.0"/>
<line class="k" x1="585.4" y1="313.8" x2="583.0" y2="302.3" style="stroke-width:1.0"/>
<line class="k" x1="588.3" y1="312.1" x2="585.9" y2="300.6" style="stroke-width:1.0"/>
<line class="k" x1="591.2" y1="310.5" x2="588.8" y2="299.0" style="stroke-width:1.0"/>
<line class="k" x1="594.1" y1="308.8" x2="591.7" y2="297.3" style="stroke-width:1.0"/>
<line class="k" x1="597.0" y1="307.2" x2="594.6" y2="295.7" style="stroke-width:1.0"/>
<line class="k" x1="599.9" y1="305.5" x2="597.5" y2="294.0" style="stroke-width:1.0"/>
<line class="k" x1="602.8" y1="303.9" x2="600.4" y2="292.4" style="stroke-width:1.0"/>
<line class="k" x1="605.7" y1="302.2" x2="603.3" y2="290.7" style="stroke-width:1.0"/>
<line class="k" x1="608.6" y1="300.6" x2="606.2" y2="289.1" style="stroke-width:1.0"/>
<line class="k" x1="611.5" y1="298.9" x2="609.1" y2="287.4" style="stroke-width:1.0"/>
<line class="k" x1="614.4" y1="297.3" x2="612.0" y2="285.8" style="stroke-width:1.0"/>
<line class="k" x1="617.3" y1="295.6" x2="614.9" y2="284.1" style="stroke-width:1.0"/>
<line class="k" x1="620.2" y1="294.0" x2="617.8" y2="282.5" style="stroke-width:1.0"/>
<line class="k" x1="626.4" y1="290.5" x2="629.6" y2="275.5" style="stroke-width:1.0"/>
<line class="k" x1="630.7" y1="288.0" x2="633.9" y2="273.0" style="stroke-width:1.0"/>
<line class="k" x1="635.1" y1="285.6" x2="638.3" y2="270.6" style="stroke-width:1.0"/>
<line class="k" x1="639.4" y1="283.1" x2="642.6" y2="268.1" style="stroke-width:1.0"/>
<line class="k" x1="643.8" y1="280.6" x2="647.0" y2="265.6" style="stroke-width:1.0"/>
<line class="k" x1="648.1" y1="278.2" x2="651.3" y2="263.2" style="stroke-width:1.0"/>
<line class="k" x1="652.5" y1="275.7" x2="655.7" y2="260.7" style="stroke-width:1.0"/>
<line class="k" x1="656.8" y1="273.2" x2="660.0" y2="258.2" style="stroke-width:1.0"/>
<line class="k" x1="661.2" y1="270.8" x2="664.4" y2="255.8" style="stroke-width:1.0"/>
<line class="k" x1="665.5" y1="268.3" x2="668.7" y2="253.3" style="stroke-width:1.0"/>
<line class="l" x1="650.6" y1="223.0" x2="628.0" y2="229.3" />
<line class="l" x1="658.6" y1="230.0" x2="651.3" y2="255.0" />
<path class="w" d="M613.0 255.0 L616.5 252.0 L623.0 255.5 L623.0 260.0 L621.0 261.0 L621.0 258.5 L616.0 256.2 L616.0 259.7 L613.0 258.5 Z" style="stroke-width:1.2"/>
<path class="k" d="M613.0 255.0 L619.0 257.7 L623.0 255.5 M619.0 257.7 L619.0 261.3 L621.0 261.0" />
<path class="w" d="M552.5 290.0 L556.0 287.0 L562.5 290.5 L562.5 295.0 L560.5 296.0 L560.5 293.5 L555.5 291.2 L555.5 294.7 L552.5 293.5 Z" style="stroke-width:1.2"/>
<path class="k" d="M552.5 290.0 L558.5 292.7 L562.5 290.5 M558.5 292.7 L558.5 296.3 L560.5 296.0" />
<path class="w" d="M661.5 284.0 L665.0 281.0 L671.5 284.5 L671.5 289.0 L669.5 290.0 L669.5 287.5 L664.5 285.2 L664.5 288.7 L661.5 287.5 Z" style="stroke-width:1.2"/>
<path class="k" d="M661.5 284.0 L667.5 286.7 L671.5 284.5 M667.5 286.7 L667.5 290.3 L669.5 290.0" />
<path class="w" d="M601.5 318.5 L605.0 315.5 L611.5 319.0 L611.5 323.5 L609.5 324.5 L609.5 322.0 L604.5 319.7 L604.5 323.2 L601.5 322.0 Z" style="stroke-width:1.2"/>
<path class="k" d="M601.5 318.5 L607.5 321.2 L611.5 319.0 M607.5 321.2 L607.5 324.8 L609.5 324.5" />
<line class="l" x1="644.3" y1="325.0" x2="621.7" y2="266.5" />
<line class="l" x1="644.3" y1="325.0" x2="564.0" y2="295.3" />
<line class="l" x1="644.3" y1="325.0" x2="614.0" y2="321.7" />
<line class="l" x1="650.6" y1="321.7" x2="661.9" y2="292.8" />
<path class="w" d="M507.0 295.5 L518.0 300.5 L518.0 311.0 L523.0 313.5 L523.0 319.5 L518.5 320.0 L511.0 316.0 L511.0 309.0 L507.0 307.0 Z" style="stroke-width:1.6;stroke:#000"/>
<path class="k" d="M509.0 299.0 L516.0 302.2 L516.0 305.5 Q512.0 306.0 509.0 302.0 Z" style="stroke-width:1.2"/>
<path class="k" d="M511.0 309.0 L518.0 312.0 M512.5 311.5 L518.5 314.5 L518.5 320.0 M518.5 314.5 L523.0 313.5 M512.5 311.5 L512.5 316.0" style="stroke-width:1.2"/>
<path class="w" d="M558.5 322.5 L569.5 327.5 L569.5 338.0 L574.5 340.5 L574.5 346.5 L570.0 347.0 L562.5 343.0 L562.5 336.0 L558.5 334.0 Z" style="stroke-width:1.6;stroke:#000"/>
<path class="k" d="M560.5 326.0 L567.5 329.2 L567.5 332.5 Q563.5 333.0 560.5 329.0 Z" style="stroke-width:1.2"/>
<path class="k" d="M562.5 336.0 L569.5 339.0 M564.0 338.5 L570.0 341.5 L570.0 347.0 M570.0 341.5 L574.5 340.5 M564.0 338.5 L564.0 343.0" style="stroke-width:1.2"/>
<line class="l" x1="527.0" y1="338.0" x2="521.3" y2="323.0" />
<line class="l" x1="531.4" y1="338.0" x2="554.0" y2="333.5" />
<path class="w" d="M613.0 409.6 L633.4 398.8 L686.4 429.8 L666.0 441.3 Z" style="stroke:none"/>
<path class="d" d="M633.1 400.0 L644.5 406.6 L626.5 416.1 L615.2 409.5 Z" style="fill:#222;stroke-width:1.6;stroke:#111"/>
<path class="w" d="M633.0 400.6 L635.8 402.2 L632.5 404.0 L629.7 402.4 Z" style="stroke:none"/>
<path class="w" d="M628.6 403.0 L631.3 404.6 L628.0 406.4 L625.2 404.7 Z" style="stroke:none"/>
<path class="w" d="M624.1 405.4 L626.9 407.0 L623.5 408.7 L620.7 407.1 Z" style="stroke:none"/>
<path class="w" d="M619.6 407.7 L622.4 409.4 L619.1 411.1 L616.3 409.5 Z" style="stroke:none"/>
<path class="w" d="M636.8 402.8 L639.6 404.5 L636.3 406.2 L633.5 404.6 Z" style="stroke:none"/>
<path class="w" d="M632.3 405.2 L635.1 406.8 L631.8 408.6 L629.0 406.9 Z" style="stroke:none"/>
<path class="w" d="M627.8 407.6 L630.6 409.2 L627.3 411.0 L624.5 409.3 Z" style="stroke:none"/>
<path class="w" d="M623.4 409.9 L626.2 411.6 L622.8 413.3 L620.0 411.7 Z" style="stroke:none"/>
<path class="w" d="M640.6 405.0 L643.4 406.7 L640.1 408.4 L637.3 406.8 Z" style="stroke:none"/>
<path class="w" d="M636.1 407.4 L638.9 409.0 L635.6 410.8 L632.8 409.2 Z" style="stroke:none"/>
<path class="w" d="M631.6 409.8 L634.4 411.4 L631.1 413.2 L628.3 411.5 Z" style="stroke:none"/>
<path class="w" d="M627.1 412.2 L629.9 413.8 L626.6 415.5 L623.8 413.9 Z" style="stroke:none"/>
<path class="d" d="M646.4 407.8 L657.7 414.4 L639.8 423.9 L628.4 417.3 Z" style="fill:#222;stroke-width:1.6;stroke:#111"/>
<path class="w" d="M646.3 408.4 L649.1 410.0 L645.8 411.7 L643.0 410.1 Z" style="stroke:none"/>
<path class="w" d="M641.8 410.7 L644.6 412.4 L641.3 414.1 L638.5 412.5 Z" style="stroke:none"/>
<path class="w" d="M637.3 413.1 L640.1 414.7 L636.8 416.5 L634.0 414.9 Z" style="stroke:none"/>
<path class="w" d="M632.8 415.5 L635.6 417.1 L632.3 418.9 L629.5 417.2 Z" style="stroke:none"/>
<path class="w" d="M650.1 410.6 L652.9 412.2 L649.5 414.0 L646.7 412.3 Z" style="stroke:none"/>
<path class="w" d="M645.6 412.9 L648.4 414.6 L645.1 416.3 L642.3 414.7 Z" style="stroke:none"/>
<path class="w" d="M641.1 415.3 L643.9 417.0 L640.6 418.7 L637.8 417.1 Z" style="stroke:none"/>
<path class="w" d="M636.6 417.7 L639.4 419.3 L636.1 421.1 L633.3 419.4 Z" style="stroke:none"/>
<path class="w" d="M653.8 412.8 L656.6 414.4 L653.3 416.2 L650.5 414.5 Z" style="stroke:none"/>
<path class="w" d="M649.4 415.2 L652.2 416.8 L648.8 418.5 L646.0 416.9 Z" style="stroke:none"/>
<path class="w" d="M644.9 417.5 L647.7 419.2 L644.3 420.9 L641.6 419.3 Z" style="stroke:none"/>
<path class="w" d="M640.4 419.9 L643.2 421.5 L639.9 423.3 L637.1 421.7 Z" style="stroke:none"/>
<path class="d" d="M659.6 415.5 L671.0 422.1 L653.0 431.6 L641.7 425.0 Z" style="fill:#222;stroke-width:1.6;stroke:#111"/>
<path class="w" d="M659.5 416.1 L662.3 417.7 L659.0 419.5 L656.2 417.9 Z" style="stroke:none"/>
<path class="w" d="M655.1 418.5 L657.8 420.1 L654.5 421.9 L651.7 420.2 Z" style="stroke:none"/>
<path class="w" d="M650.6 420.9 L653.4 422.5 L650.0 424.2 L647.2 422.6 Z" style="stroke:none"/>
<path class="w" d="M646.1 423.2 L648.9 424.9 L645.6 426.6 L642.8 425.0 Z" style="stroke:none"/>
<path class="w" d="M663.3 418.3 L666.1 420.0 L662.8 421.7 L660.0 420.1 Z" style="stroke:none"/>
<path class="w" d="M658.8 420.7 L661.6 422.3 L658.3 424.1 L655.5 422.4 Z" style="stroke:none"/>
<path class="w" d="M654.3 423.1 L657.1 424.7 L653.8 426.5 L651.0 424.8 Z" style="stroke:none"/>
<path class="w" d="M649.9 425.4 L652.7 427.1 L649.3 428.8 L646.5 427.2 Z" style="stroke:none"/>
<path class="w" d="M667.1 420.5 L669.9 422.2 L666.6 423.9 L663.8 422.3 Z" style="stroke:none"/>
<path class="w" d="M662.6 422.9 L665.4 424.5 L662.1 426.3 L659.3 424.7 Z" style="stroke:none"/>
<path class="w" d="M658.1 425.3 L660.9 426.9 L657.6 428.7 L654.8 427.0 Z" style="stroke:none"/>
<path class="w" d="M653.6 427.7 L656.4 429.3 L653.1 431.0 L650.3 429.4 Z" style="stroke:none"/>
<path class="d" d="M672.9 423.3 L684.2 429.9 L666.3 439.4 L654.9 432.8 Z" style="fill:#222;stroke-width:1.6;stroke:#111"/>
<path class="w" d="M672.8 423.9 L675.6 425.5 L672.3 427.2 L669.5 425.6 Z" style="stroke:none"/>
<path class="w" d="M668.3 426.2 L671.1 427.9 L667.8 429.6 L665.0 428.0 Z" style="stroke:none"/>
<path class="w" d="M663.8 428.6 L666.6 430.2 L663.3 432.0 L660.5 430.4 Z" style="stroke:none"/>
<path class="w" d="M659.3 431.0 L662.1 432.6 L658.8 434.4 L656.0 432.7 Z" style="stroke:none"/>
<path class="w" d="M676.6 426.1 L679.4 427.7 L676.0 429.5 L673.2 427.8 Z" style="stroke:none"/>
<path class="w" d="M672.1 428.4 L674.9 430.1 L671.6 431.8 L668.8 430.2 Z" style="stroke:none"/>
<path class="w" d="M667.6 430.8 L670.4 432.5 L667.1 434.2 L664.3 432.6 Z" style="stroke:none"/>
<path class="w" d="M663.1 433.2 L665.9 434.8 L662.6 436.6 L659.8 434.9 Z" style="stroke:none"/>
<path class="w" d="M680.3 428.3 L683.1 429.9 L679.8 431.7 L677.0 430.0 Z" style="stroke:none"/>
<path class="w" d="M675.9 430.7 L678.7 432.3 L675.3 434.0 L672.5 432.4 Z" style="stroke:none"/>
<path class="w" d="M671.4 433.0 L674.2 434.7 L670.8 436.4 L668.1 434.8 Z" style="stroke:none"/>
<path class="w" d="M666.9 435.4 L669.7 437.0 L666.4 438.8 L663.6 437.2 Z" style="stroke:none"/>
<path class="w" d="M584.7 427.0 L606.8 413.9 L662.5 446.6 L640.4 459.2 Z" />
<path class="w" d="M584.7 427.0 L640.4 459.2 L639.5 489.5 L588.0 461.6 Z" />
<path class="w" d="M640.4 459.2 L662.5 446.6 L660.8 479.3 L639.5 489.5 Z" />
<path class="t" d="M588 427.5 L607 416.5 L607 432 L603 434.5 M607 416.5 L657.5 446.5" />
<line class="t" x1="590.5" y1="428.5" x2="590.5" y2="441.0" />
<line class="t" x1="592.8" y1="427.2" x2="592.8" y2="440.0" />
<line class="t" x1="595.1" y1="425.8" x2="595.1" y2="438.9" />
<line class="t" x1="597.4" y1="424.5" x2="597.4" y2="437.9" />
<line class="t" x1="599.7" y1="423.2" x2="599.7" y2="436.9" />
<line class="t" x1="602.0" y1="421.9" x2="602.0" y2="435.9" />
<line class="t" x1="604.3" y1="420.5" x2="604.3" y2="434.8" />
<line class="t" x1="626.0" y1="430.0" x2="626.0" y2="442.0" />
<line class="t" x1="628.6" y1="431.5" x2="628.6" y2="443.5" />
<line class="t" x1="631.2" y1="433.0" x2="631.2" y2="445.0" />
<line class="t" x1="633.8" y1="434.5" x2="633.8" y2="446.5" />
<line class="t" x1="636.4" y1="436.0" x2="636.4" y2="448.0" />
<line class="t" x1="639.0" y1="437.5" x2="639.0" y2="449.5" />
<line class="t" x1="650.0" y1="443.5" x2="650.0" y2="452.0" />
<line class="t" x1="652.4" y1="444.9" x2="652.4" y2="453.4" />
<line class="t" x1="654.8" y1="446.3" x2="654.8" y2="454.8" />
<line class="t" x1="657.2" y1="447.7" x2="657.2" y2="456.2" />
<line class="t" x1="590.5" y1="431.3" x2="606.5" y2="422.1" />
<line class="t" x1="626.0" y1="432.6" x2="640.0" y2="440.6" />
<line class="t" x1="590.5" y1="434.1" x2="606.5" y2="424.9" />
<line class="t" x1="626.0" y1="435.2" x2="640.0" y2="443.2" />
<line class="t" x1="590.5" y1="436.9" x2="606.5" y2="427.7" />
<line class="t" x1="626.0" y1="437.8" x2="640.0" y2="445.8" />
<line class="t" x1="590.5" y1="439.7" x2="606.5" y2="430.5" />
<line class="t" x1="626.0" y1="440.4" x2="640.0" y2="448.4" />
<line class="t" x1="650.0" y1="446.1" x2="658.5" y2="451.1" />
<line class="t" x1="650.0" y1="448.7" x2="658.5" y2="453.7" />
<line class="t" x1="609.0" y1="418.0" x2="609.0" y2="429.0" />
<line class="t" x1="611.2" y1="419.3" x2="611.2" y2="430.3" />
<line class="t" x1="613.4" y1="420.6" x2="613.4" y2="431.6" />
<line class="t" x1="615.6" y1="421.9" x2="615.6" y2="432.9" />
<line class="t" x1="617.8" y1="423.2" x2="617.8" y2="434.2" />
<line class="t" x1="620.0" y1="424.5" x2="620.0" y2="435.5" />
<line class="t" x1="609.0" y1="420.8" x2="621.0" y2="427.8" />
<line class="t" x1="609.0" y1="423.6" x2="621.0" y2="430.6" />
<line class="t" x1="609.0" y1="426.4" x2="621.0" y2="433.4" />
<path class="p" d="M603.5 436.5 L620.5 428 L622 438 M629.5 447 L646.5 438.5 L659.5 446" />
<path class="t" d="M606 440 L622 432.5 M632 450.5 L646.5 443.5 L656 448.8" />
<path class="d" d="M587.2 431.4 L599.4 438.4 L601.2 466.5 L589.8 460.3 Z" style="fill:#2a2a2a;stroke-width:0.6"/>
<path class="w" d="M587.9 432.3 L589.9 433.4 L590.0 435.3 L588.0 434.2 Z" style="stroke:none"/>
<path class="w" d="M588.1 435.1 L590.1 436.3 L590.3 438.2 L588.3 437.1 Z" style="stroke:none"/>
<path class="w" d="M588.4 438.0 L590.4 439.2 L590.5 441.1 L588.6 439.9 Z" style="stroke:none"/>
<path class="w" d="M588.6 440.9 L590.6 442.0 L590.8 443.9 L588.8 442.8 Z" style="stroke:none"/>
<path class="w" d="M588.9 443.8 L590.9 444.9 L591.0 446.8 L589.1 445.7 Z" style="stroke:none"/>
<path class="w" d="M589.2 446.7 L591.1 447.8 L591.3 449.7 L589.3 448.6 Z" style="stroke:none"/>
<path class="w" d="M589.4 449.6 L591.3 450.7 L591.5 452.6 L589.6 451.5 Z" style="stroke:none"/>
<path class="w" d="M589.7 452.5 L591.6 453.5 L591.8 455.4 L589.9 454.4 Z" style="stroke:none"/>
<path class="w" d="M589.9 455.4 L591.8 456.4 L592.0 458.3 L590.1 457.3 Z" style="stroke:none"/>
<path class="w" d="M590.2 458.2 L592.1 459.3 L592.3 461.2 L590.4 460.2 Z" style="stroke:none"/>
<path class="w" d="M590.9 434.0 L592.9 435.2 L593.1 437.0 L591.1 435.9 Z" style="stroke:none"/>
<path class="w" d="M591.1 436.9 L593.1 438.0 L593.3 439.9 L591.3 438.8 Z" style="stroke:none"/>
<path class="w" d="M591.4 439.7 L593.4 440.9 L593.5 442.7 L591.5 441.6 Z" style="stroke:none"/>
<path class="w" d="M591.6 442.6 L593.6 443.7 L593.7 445.6 L591.8 444.5 Z" style="stroke:none"/>
<path class="w" d="M591.9 445.5 L593.8 446.6 L594.0 448.5 L592.0 447.4 Z" style="stroke:none"/>
<path class="w" d="M592.1 448.3 L594.0 449.4 L594.2 451.3 L592.3 450.2 Z" style="stroke:none"/>
<path class="w" d="M592.3 451.2 L594.3 452.3 L594.4 454.2 L592.5 453.1 Z" style="stroke:none"/>
<path class="w" d="M592.6 454.1 L594.5 455.1 L594.6 457.0 L592.7 456.0 Z" style="stroke:none"/>
<path class="w" d="M592.8 456.9 L594.7 458.0 L594.9 459.9 L593.0 458.8 Z" style="stroke:none"/>
<path class="w" d="M593.1 459.8 L595.0 460.8 L595.1 462.7 L593.2 461.7 Z" style="stroke:none"/>
<path class="w" d="M593.9 435.7 L595.9 436.9 L596.1 438.8 L594.1 437.6 Z" style="stroke:none"/>
<path class="w" d="M594.2 438.6 L596.2 439.7 L596.3 441.6 L594.3 440.5 Z" style="stroke:none"/>
<path class="w" d="M594.4 441.4 L596.4 442.6 L596.5 444.4 L594.5 443.3 Z" style="stroke:none"/>
<path class="w" d="M594.6 444.3 L596.6 445.4 L596.7 447.3 L594.8 446.2 Z" style="stroke:none"/>
<path class="w" d="M594.8 447.1 L596.8 448.2 L596.9 450.1 L595.0 449.0 Z" style="stroke:none"/>
<path class="w" d="M595.0 450.0 L597.0 451.1 L597.1 452.9 L595.2 451.9 Z" style="stroke:none"/>
<path class="w" d="M595.3 452.8 L597.2 453.9 L597.3 455.8 L595.4 454.7 Z" style="stroke:none"/>
<path class="w" d="M595.5 455.7 L597.4 456.7 L597.5 458.6 L595.6 457.6 Z" style="stroke:none"/>
<path class="w" d="M595.7 458.5 L597.6 459.6 L597.7 461.5 L595.9 460.4 Z" style="stroke:none"/>
<path class="w" d="M595.9 461.4 L597.8 462.4 L598.0 464.3 L596.1 463.3 Z" style="stroke:none"/>
<path class="w" d="M597.0 437.5 L599.0 438.6 L599.1 440.5 L597.1 439.4 Z" style="stroke:none"/>
<path class="w" d="M597.2 440.3 L599.2 441.5 L599.3 443.3 L597.3 442.2 Z" style="stroke:none"/>
<path class="w" d="M597.4 443.2 L599.4 444.3 L599.5 446.1 L597.5 445.0 Z" style="stroke:none"/>
<path class="w" d="M597.6 446.0 L599.6 447.1 L599.7 449.0 L597.7 447.8 Z" style="stroke:none"/>
<path class="w" d="M597.8 448.8 L599.7 449.9 L599.9 451.8 L597.9 450.7 Z" style="stroke:none"/>
<path class="w" d="M598.0 451.6 L599.9 452.7 L600.1 454.6 L598.1 453.5 Z" style="stroke:none"/>
<path class="w" d="M598.2 454.5 L600.1 455.5 L600.2 457.4 L598.3 456.3 Z" style="stroke:none"/>
<path class="w" d="M598.4 457.3 L600.3 458.4 L600.4 460.2 L598.5 459.2 Z" style="stroke:none"/>
<path class="w" d="M598.6 460.1 L600.5 461.2 L600.6 463.0 L598.7 462.0 Z" style="stroke:none"/>
<path class="w" d="M598.8 463.0 L600.7 464.0 L600.8 465.8 L598.9 464.8 Z" style="stroke:none"/>
<path class="d" d="M604.9 441.9 L625.9 454.0 L626.1 480.7 L606.5 470.0 Z" style="fill:#2a2a2a;stroke-width:0.6"/>
<path class="w" d="M605.6 442.7 L607.5 443.9 L607.6 445.7 L605.7 444.6 Z" style="stroke:none"/>
<path class="w" d="M605.7 445.6 L607.7 446.7 L607.8 448.5 L605.8 447.4 Z" style="stroke:none"/>
<path class="w" d="M605.9 448.4 L607.8 449.5 L607.9 451.3 L606.0 450.2 Z" style="stroke:none"/>
<path class="w" d="M606.0 451.2 L607.9 452.3 L608.0 454.1 L606.1 453.0 Z" style="stroke:none"/>
<path class="w" d="M606.2 454.0 L608.1 455.1 L608.2 456.9 L606.2 455.8 Z" style="stroke:none"/>
<path class="w" d="M606.3 456.8 L608.2 457.8 L608.3 459.7 L606.4 458.6 Z" style="stroke:none"/>
<path class="w" d="M606.4 459.6 L608.3 460.6 L608.4 462.5 L606.5 461.4 Z" style="stroke:none"/>
<path class="w" d="M606.6 462.4 L608.5 463.4 L608.6 465.3 L606.7 464.2 Z" style="stroke:none"/>
<path class="w" d="M606.7 465.2 L608.6 466.2 L608.7 468.1 L606.8 467.0 Z" style="stroke:none"/>
<path class="w" d="M606.9 468.0 L608.8 469.0 L608.8 470.9 L607.0 469.8 Z" style="stroke:none"/>
<path class="w" d="M608.6 444.5 L610.5 445.6 L610.6 447.4 L608.6 446.3 Z" style="stroke:none"/>
<path class="w" d="M608.7 447.3 L610.6 448.4 L610.7 450.2 L608.8 449.1 Z" style="stroke:none"/>
<path class="w" d="M608.8 450.0 L610.8 451.1 L610.8 453.0 L608.9 451.9 Z" style="stroke:none"/>
<path class="w" d="M608.9 452.8 L610.9 453.9 L611.0 455.8 L609.0 454.7 Z" style="stroke:none"/>
<path class="w" d="M609.1 455.6 L611.0 456.7 L611.1 458.5 L609.2 457.4 Z" style="stroke:none"/>
<path class="w" d="M609.2 458.4 L611.1 459.5 L611.2 461.3 L609.3 460.2 Z" style="stroke:none"/>
<path class="w" d="M609.3 461.2 L611.2 462.2 L611.3 464.1 L609.4 463.0 Z" style="stroke:none"/>
<path class="w" d="M609.5 464.0 L611.3 465.0 L611.4 466.8 L609.5 465.8 Z" style="stroke:none"/>
<path class="w" d="M609.6 466.8 L611.5 467.8 L611.5 469.6 L609.7 468.6 Z" style="stroke:none"/>
<path class="w" d="M609.7 469.5 L611.6 470.6 L611.7 472.4 L609.8 471.4 Z" style="stroke:none"/>
<path class="w" d="M611.6 446.2 L613.5 447.3 L613.6 449.1 L611.6 448.0 Z" style="stroke:none"/>
<path class="w" d="M611.7 449.0 L613.6 450.1 L613.7 451.9 L611.7 450.8 Z" style="stroke:none"/>
<path class="w" d="M611.8 451.7 L613.7 452.8 L613.8 454.6 L611.8 453.5 Z" style="stroke:none"/>
<path class="w" d="M611.9 454.5 L613.8 455.6 L613.9 457.4 L612.0 456.3 Z" style="stroke:none"/>
<path class="w" d="M612.0 457.3 L613.9 458.3 L614.0 460.2 L612.1 459.1 Z" style="stroke:none"/>
<path class="w" d="M612.1 460.0 L614.0 461.1 L614.1 462.9 L612.2 461.8 Z" style="stroke:none"/>
<path class="w" d="M612.2 462.8 L614.1 463.8 L614.2 465.7 L612.3 464.6 Z" style="stroke:none"/>
<path class="w" d="M612.3 465.5 L614.2 466.6 L614.3 468.4 L612.4 467.4 Z" style="stroke:none"/>
<path class="w" d="M612.4 468.3 L614.3 469.3 L614.4 471.2 L612.5 470.1 Z" style="stroke:none"/>
<path class="w" d="M612.5 471.1 L614.4 472.1 L614.5 473.9 L612.6 472.9 Z" style="stroke:none"/>
<path class="w" d="M614.5 447.9 L616.5 449.0 L616.6 450.8 L614.6 449.7 Z" style="stroke:none"/>
<path class="w" d="M614.6 450.7 L616.6 451.8 L616.7 453.6 L614.7 452.5 Z" style="stroke:none"/>
<path class="w" d="M614.7 453.4 L616.7 454.5 L616.7 456.3 L614.8 455.2 Z" style="stroke:none"/>
<path class="w" d="M614.8 456.1 L616.8 457.2 L616.8 459.0 L614.9 458.0 Z" style="stroke:none"/>
<path class="w" d="M614.9 458.9 L616.8 460.0 L616.9 461.8 L615.0 460.7 Z" style="stroke:none"/>
<path class="w" d="M615.0 461.6 L616.9 462.7 L617.0 464.5 L615.1 463.5 Z" style="stroke:none"/>
<path class="w" d="M615.1 464.4 L617.0 465.4 L617.0 467.2 L615.1 466.2 Z" style="stroke:none"/>
<path class="w" d="M615.2 467.1 L617.1 468.2 L617.1 470.0 L615.2 468.9 Z" style="stroke:none"/>
<path class="w" d="M615.3 469.9 L617.1 470.9 L617.2 472.7 L615.3 471.7 Z" style="stroke:none"/>
<path class="w" d="M615.4 472.6 L617.2 473.6 L617.3 475.4 L615.4 474.4 Z" style="stroke:none"/>
<path class="w" d="M617.5 449.6 L619.5 450.8 L619.6 452.6 L617.6 451.4 Z" style="stroke:none"/>
<path class="w" d="M617.6 452.4 L619.6 453.5 L619.6 455.3 L617.7 454.2 Z" style="stroke:none"/>
<path class="w" d="M617.7 455.1 L619.6 456.2 L619.7 458.0 L617.7 456.9 Z" style="stroke:none"/>
<path class="w" d="M617.8 457.8 L619.7 458.9 L619.7 460.7 L617.8 459.6 Z" style="stroke:none"/>
<path class="w" d="M617.8 460.5 L619.8 461.6 L619.8 463.4 L617.9 462.3 Z" style="stroke:none"/>
<path class="w" d="M617.9 463.3 L619.8 464.3 L619.9 466.1 L617.9 465.1 Z" style="stroke:none"/>
<path class="w" d="M618.0 466.0 L619.9 467.0 L619.9 468.8 L618.0 467.8 Z" style="stroke:none"/>
<path class="w" d="M618.0 468.7 L619.9 469.8 L620.0 471.5 L618.1 470.5 Z" style="stroke:none"/>
<path class="w" d="M618.1 471.4 L620.0 472.5 L620.0 474.3 L618.2 473.2 Z" style="stroke:none"/>
<path class="w" d="M618.2 474.2 L620.0 475.2 L620.1 477.0 L618.2 476.0 Z" style="stroke:none"/>
<path class="w" d="M620.5 451.4 L622.5 452.5 L622.5 454.3 L620.6 453.1 Z" style="stroke:none"/>
<path class="w" d="M620.6 454.1 L622.6 455.2 L622.6 457.0 L620.6 455.8 Z" style="stroke:none"/>
<path class="w" d="M620.6 456.8 L622.6 457.9 L622.6 459.7 L620.7 458.6 Z" style="stroke:none"/>
<path class="w" d="M620.7 459.5 L622.6 460.6 L622.7 462.3 L620.7 461.3 Z" style="stroke:none"/>
<path class="w" d="M620.7 462.2 L622.7 463.3 L622.7 465.0 L620.8 464.0 Z" style="stroke:none"/>
<path class="w" d="M620.8 464.9 L622.7 466.0 L622.7 467.7 L620.8 466.7 Z" style="stroke:none"/>
<path class="w" d="M620.9 467.6 L622.8 468.6 L622.8 470.4 L620.9 469.4 Z" style="stroke:none"/>
<path class="w" d="M620.9 470.3 L622.8 471.3 L622.8 473.1 L620.9 472.1 Z" style="stroke:none"/>
<path class="w" d="M621.0 473.0 L622.8 474.0 L622.9 475.8 L621.0 474.8 Z" style="stroke:none"/>
<path class="w" d="M621.0 475.7 L622.9 476.7 L622.9 478.5 L621.0 477.5 Z" style="stroke:none"/>
<path class="w" d="M623.5 453.1 L625.5 454.2 L625.5 456.0 L623.6 454.8 Z" style="stroke:none"/>
<path class="w" d="M623.6 455.8 L625.5 456.9 L625.6 458.6 L623.6 457.5 Z" style="stroke:none"/>
<path class="w" d="M623.6 458.4 L625.6 459.6 L625.6 461.3 L623.6 460.2 Z" style="stroke:none"/>
<path class="w" d="M623.6 461.1 L625.6 462.2 L625.6 464.0 L623.7 462.9 Z" style="stroke:none"/>
<path class="w" d="M623.7 463.8 L625.6 464.9 L625.6 466.7 L623.7 465.6 Z" style="stroke:none"/>
<path class="w" d="M623.7 466.5 L625.6 467.6 L625.6 469.3 L623.7 468.3 Z" style="stroke:none"/>
<path class="w" d="M623.7 469.2 L625.6 470.2 L625.6 472.0 L623.8 471.0 Z" style="stroke:none"/>
<path class="w" d="M623.8 471.9 L625.7 472.9 L625.7 474.7 L623.8 473.7 Z" style="stroke:none"/>
<path class="w" d="M623.8 474.6 L625.7 475.6 L625.7 477.4 L623.8 476.3 Z" style="stroke:none"/>
<path class="w" d="M623.8 477.3 L625.7 478.3 L625.7 480.0 L623.8 479.0 Z" style="stroke:none"/>
<path class="d" d="M630.9 456.8 L639.5 461.8 L638.8 487.6 L630.8 483.2 Z" style="fill:#2a2a2a;stroke-width:0.6"/>
<path class="w" d="M631.5 457.6 L633.4 458.7 L633.3 460.4 L631.5 459.4 Z" style="stroke:none"/>
<path class="w" d="M631.5 460.3 L633.3 461.3 L633.3 463.1 L631.4 462.0 Z" style="stroke:none"/>
<path class="w" d="M631.4 462.9 L633.3 464.0 L633.3 465.7 L631.4 464.6 Z" style="stroke:none"/>
<path class="w" d="M631.4 465.5 L633.3 466.6 L633.2 468.3 L631.4 467.3 Z" style="stroke:none"/>
<path class="w" d="M631.4 468.2 L633.2 469.2 L633.2 470.9 L631.4 469.9 Z" style="stroke:none"/>
<path class="w" d="M631.4 470.8 L633.2 471.8 L633.2 473.5 L631.4 472.5 Z" style="stroke:none"/>
<path class="w" d="M631.4 473.4 L633.2 474.4 L633.2 476.2 L631.4 475.2 Z" style="stroke:none"/>
<path class="w" d="M631.3 476.1 L633.1 477.1 L633.1 478.8 L631.3 477.8 Z" style="stroke:none"/>
<path class="w" d="M631.3 478.7 L633.1 479.7 L633.1 481.4 L631.3 480.4 Z" style="stroke:none"/>
<path class="w" d="M631.3 481.3 L633.1 482.3 L633.1 484.0 L631.3 483.1 Z" style="stroke:none"/>
<path class="w" d="M634.3 459.3 L636.2 460.4 L636.2 462.1 L634.3 461.0 Z" style="stroke:none"/>
<path class="w" d="M634.3 461.9 L636.2 463.0 L636.1 464.7 L634.3 463.6 Z" style="stroke:none"/>
<path class="w" d="M634.3 464.5 L636.1 465.6 L636.1 467.3 L634.2 466.2 Z" style="stroke:none"/>
<path class="w" d="M634.2 467.1 L636.1 468.2 L636.0 469.9 L634.2 468.8 Z" style="stroke:none"/>
<path class="w" d="M634.2 469.7 L636.0 470.8 L636.0 472.5 L634.2 471.5 Z" style="stroke:none"/>
<path class="w" d="M634.1 472.3 L636.0 473.4 L635.9 475.1 L634.1 474.1 Z" style="stroke:none"/>
<path class="w" d="M634.1 475.0 L635.9 476.0 L635.9 477.7 L634.1 476.7 Z" style="stroke:none"/>
<path class="w" d="M634.1 477.6 L635.9 478.6 L635.8 480.3 L634.0 479.3 Z" style="stroke:none"/>
<path class="w" d="M634.0 480.2 L635.8 481.2 L635.8 482.9 L634.0 481.9 Z" style="stroke:none"/>
<path class="w" d="M634.0 482.8 L635.8 483.8 L635.7 485.5 L634.0 484.5 Z" style="stroke:none"/>
<path class="w" d="M637.2 460.9 L639.1 462.0 L639.0 463.7 L637.1 462.6 Z" style="stroke:none"/>
<path class="w" d="M637.1 463.5 L639.0 464.6 L639.0 466.3 L637.1 465.2 Z" style="stroke:none"/>
<path class="w" d="M637.1 466.1 L638.9 467.2 L638.9 468.9 L637.0 467.8 Z" style="stroke:none"/>
<path class="w" d="M637.0 468.7 L638.9 469.7 L638.8 471.4 L637.0 470.4 Z" style="stroke:none"/>
<path class="w" d="M637.0 471.3 L638.8 472.3 L638.7 474.0 L636.9 473.0 Z" style="stroke:none"/>
<path class="w" d="M636.9 473.9 L638.7 474.9 L638.7 476.6 L636.9 475.6 Z" style="stroke:none"/>
<path class="w" d="M636.8 476.5 L638.7 477.5 L638.6 479.2 L636.8 478.2 Z" style="stroke:none"/>
<path class="w" d="M636.8 479.1 L638.6 480.1 L638.5 481.8 L636.8 480.8 Z" style="stroke:none"/>
<path class="w" d="M636.7 481.7 L638.5 482.7 L638.5 484.4 L636.7 483.4 Z" style="stroke:none"/>
<path class="w" d="M636.7 484.3 L638.5 485.2 L638.4 486.9 L636.6 486.0 Z" style="stroke:none"/>
<path class="p" d="M601.7 440.7 L603.3 467.6 M603.3 441.9 L604.9 468.8" />
<path class="p" d="M627.6 455.5 L627.7 481.8 M629.3 456.8 L629.2 483.0" />
<path class="d" d="M643.0 460.7 L660.6 450.9 L659.2 477.8 L642.1 486.1 Z" style="fill:#2a2a2a;stroke-width:0.6"/>
<path class="w" d="M643.5 460.9 L645.5 459.8 L645.4 461.5 L643.5 462.6 Z" style="stroke:none"/>
<path class="w" d="M643.4 463.4 L645.4 462.4 L645.3 464.0 L643.4 465.1 Z" style="stroke:none"/>
<path class="w" d="M643.4 466.0 L645.3 464.9 L645.2 466.6 L643.3 467.6 Z" style="stroke:none"/>
<path class="w" d="M643.3 468.5 L645.2 467.5 L645.1 469.2 L643.2 470.2 Z" style="stroke:none"/>
<path class="w" d="M643.2 471.1 L645.1 470.0 L645.0 471.7 L643.1 472.7 Z" style="stroke:none"/>
<path class="w" d="M643.1 473.6 L645.0 472.6 L645.0 474.3 L643.0 475.3 Z" style="stroke:none"/>
<path class="w" d="M643.0 476.1 L644.9 475.2 L644.9 476.9 L643.0 477.8 Z" style="stroke:none"/>
<path class="w" d="M642.9 478.7 L644.8 477.7 L644.8 479.4 L642.9 480.4 Z" style="stroke:none"/>
<path class="w" d="M642.8 481.2 L644.7 480.3 L644.7 482.0 L642.8 482.9 Z" style="stroke:none"/>
<path class="w" d="M642.8 483.8 L644.6 482.8 L644.6 484.5 L642.7 485.5 Z" style="stroke:none"/>
<path class="w" d="M646.5 459.2 L648.4 458.1 L648.3 459.9 L646.4 460.9 Z" style="stroke:none"/>
<path class="w" d="M646.4 461.8 L648.3 460.7 L648.2 462.4 L646.3 463.5 Z" style="stroke:none"/>
<path class="w" d="M646.3 464.4 L648.2 463.3 L648.1 465.0 L646.2 466.1 Z" style="stroke:none"/>
<path class="w" d="M646.2 466.9 L648.1 465.9 L648.0 467.6 L646.1 468.6 Z" style="stroke:none"/>
<path class="w" d="M646.1 469.5 L648.0 468.5 L647.9 470.2 L646.0 471.2 Z" style="stroke:none"/>
<path class="w" d="M646.0 472.1 L647.9 471.1 L647.8 472.8 L645.9 473.8 Z" style="stroke:none"/>
<path class="w" d="M645.9 474.7 L647.8 473.7 L647.7 475.4 L645.8 476.4 Z" style="stroke:none"/>
<path class="w" d="M645.8 477.2 L647.7 476.3 L647.6 478.0 L645.7 478.9 Z" style="stroke:none"/>
<path class="w" d="M645.7 479.8 L647.6 478.9 L647.5 480.6 L645.7 481.5 Z" style="stroke:none"/>
<path class="w" d="M645.6 482.4 L647.5 481.4 L647.4 483.1 L645.6 484.1 Z" style="stroke:none"/>
<path class="w" d="M649.4 457.6 L651.3 456.5 L651.3 458.2 L649.3 459.3 Z" style="stroke:none"/>
<path class="w" d="M649.3 460.2 L651.2 459.1 L651.2 460.8 L649.2 461.9 Z" style="stroke:none"/>
<path class="w" d="M649.2 462.8 L651.1 461.7 L651.0 463.5 L649.1 464.5 Z" style="stroke:none"/>
<path class="w" d="M649.1 465.4 L651.0 464.3 L650.9 466.1 L649.0 467.1 Z" style="stroke:none"/>
<path class="w" d="M649.0 468.0 L650.9 467.0 L650.8 468.7 L648.9 469.7 Z" style="stroke:none"/>
<path class="w" d="M648.9 470.6 L650.8 469.6 L650.7 471.3 L648.8 472.3 Z" style="stroke:none"/>
<path class="w" d="M648.8 473.2 L650.7 472.2 L650.6 473.9 L648.7 474.9 Z" style="stroke:none"/>
<path class="w" d="M648.7 475.8 L650.6 474.8 L650.5 476.5 L648.6 477.5 Z" style="stroke:none"/>
<path class="w" d="M648.6 478.4 L650.5 477.4 L650.4 479.1 L648.5 480.1 Z" style="stroke:none"/>
<path class="w" d="M648.5 481.0 L650.4 480.0 L650.3 481.8 L648.4 482.7 Z" style="stroke:none"/>
<path class="w" d="M652.3 455.9 L654.3 454.9 L654.2 456.6 L652.3 457.7 Z" style="stroke:none"/>
<path class="w" d="M652.2 458.6 L654.1 457.5 L654.1 459.2 L652.1 460.3 Z" style="stroke:none"/>
<path class="w" d="M652.1 461.2 L654.0 460.1 L654.0 461.9 L652.0 462.9 Z" style="stroke:none"/>
<path class="w" d="M652.0 463.8 L653.9 462.8 L653.8 464.5 L651.9 465.5 Z" style="stroke:none"/>
<path class="w" d="M651.9 466.4 L653.8 465.4 L653.7 467.2 L651.8 468.2 Z" style="stroke:none"/>
<path class="w" d="M651.8 469.1 L653.7 468.1 L653.6 469.8 L651.7 470.8 Z" style="stroke:none"/>
<path class="w" d="M651.7 471.7 L653.6 470.7 L653.5 472.5 L651.6 473.4 Z" style="stroke:none"/>
<path class="w" d="M651.6 474.3 L653.4 473.4 L653.4 475.1 L651.5 476.0 Z" style="stroke:none"/>
<path class="w" d="M651.4 476.9 L653.3 476.0 L653.3 477.7 L651.4 478.7 Z" style="stroke:none"/>
<path class="w" d="M651.3 479.6 L653.2 478.6 L653.1 480.4 L651.3 481.3 Z" style="stroke:none"/>
<path class="w" d="M655.3 454.3 L657.2 453.2 L657.1 455.0 L655.2 456.1 Z" style="stroke:none"/>
<path class="w" d="M655.1 457.0 L657.1 455.9 L657.0 457.6 L655.1 458.7 Z" style="stroke:none"/>
<path class="w" d="M655.0 459.6 L656.9 458.6 L656.9 460.3 L654.9 461.4 Z" style="stroke:none"/>
<path class="w" d="M654.9 462.3 L656.8 461.2 L656.7 463.0 L654.8 464.0 Z" style="stroke:none"/>
<path class="w" d="M654.8 464.9 L656.7 463.9 L656.6 465.7 L654.7 466.7 Z" style="stroke:none"/>
<path class="w" d="M654.7 467.6 L656.6 466.6 L656.5 468.3 L654.6 469.3 Z" style="stroke:none"/>
<path class="w" d="M654.5 470.2 L656.4 469.2 L656.4 471.0 L654.5 472.0 Z" style="stroke:none"/>
<path class="w" d="M654.4 472.9 L656.3 471.9 L656.2 473.7 L654.3 474.6 Z" style="stroke:none"/>
<path class="w" d="M654.3 475.5 L656.2 474.6 L656.1 476.3 L654.2 477.3 Z" style="stroke:none"/>
<path class="w" d="M654.2 478.2 L656.1 477.2 L656.0 479.0 L654.1 479.9 Z" style="stroke:none"/>
<path class="w" d="M658.2 452.7 L660.1 451.6 L660.0 453.4 L658.1 454.4 Z" style="stroke:none"/>
<path class="w" d="M658.1 455.3 L660.0 454.3 L659.9 456.0 L658.0 457.1 Z" style="stroke:none"/>
<path class="w" d="M657.9 458.0 L659.9 457.0 L659.8 458.7 L657.9 459.8 Z" style="stroke:none"/>
<path class="w" d="M657.8 460.7 L659.7 459.7 L659.6 461.4 L657.7 462.5 Z" style="stroke:none"/>
<path class="w" d="M657.7 463.4 L659.6 462.4 L659.5 464.1 L657.6 465.1 Z" style="stroke:none"/>
<path class="w" d="M657.6 466.0 L659.5 465.0 L659.4 466.8 L657.5 467.8 Z" style="stroke:none"/>
<path class="w" d="M657.4 468.7 L659.3 467.7 L659.2 469.5 L657.3 470.5 Z" style="stroke:none"/>
<path class="w" d="M657.3 471.4 L659.2 470.4 L659.1 472.2 L657.2 473.2 Z" style="stroke:none"/>
<path class="w" d="M657.2 474.1 L659.1 473.1 L659.0 474.9 L657.1 475.8 Z" style="stroke:none"/>
<path class="w" d="M657.0 476.8 L658.9 475.8 L658.8 477.6 L657.0 478.5 Z" style="stroke:none"/>
<path class="k" d="M584.7 427.0 L606.8 413.9 L662.5 446.6 L640.4 459.2 Z" style="stroke-width:1.6"/>
<path class="p" d="M585.7 429.0 L640.4 461.4 L661.5 448.6" />
<path class="d" d="M620.8 421 L620.8 447.5 L623.6 449 L623.6 422 Z" style="fill:#555"/>
<path class="d" d="M613.8 412.5 L619.5 406 L631 403.3 L633.8 406.5 L625 417.5 L621 419.5 Z" style="fill:#8a8a8a;stroke:none"/>
<path class="k" d="M612.8 413 Q613 407 619.5 405 L630 402.3 Q634.8 401.8 634.3 406.5" style="stroke-width:2.6;stroke:#000"/>
<path class="p" d="M615.5 414.5 L621 418.5 L624.5 417 M617 410 L626 406.5" />
<path class="p" d="M612.5 413 L613.5 417 L620.5 422 L624.5 419.5" />
<line class="l" x1="583.5" y1="489.5" x2="598.5" y2="473.0" />
<defs><clipPath id="ucl"><path d="M350 170 L450 118 L562 184 L562 201 L520 229 L476 262 L440 300 L350 300 Z"/></clipPath></defs>
<g id="ubasket">
<path class="p" d="M451.5 125.4 Q451.8 137.4 451.8 141.9 Q451.7 146.4 450.3 149.9 Q448.9 153.4 448.8 157.4 Q448.7 161.4 448.9 165.6 Q449.1 169.7 448.8 172.2 L448.5 174.7" />
<path class="p" d="M460.4 130.6 Q460.7 142.6 460.6 147.1 Q460.6 151.6 459.1 155.1 Q457.8 158.6 457.6 162.6 Q457.6 166.6 457.8 170.4 Q458.0 174.3 457.7 176.8 L457.4 179.3" />
<path class="p" d="M469.2 135.8 Q469.5 147.8 469.5 152.3 Q469.4 156.8 468.0 160.3 Q466.6 163.8 466.5 167.8 Q466.4 171.8 466.6 175.3 Q466.8 178.9 466.5 181.4 L466.2 183.9" />
<path class="p" d="M478.1 141.0 Q478.4 153.0 478.3 157.5 Q478.3 162.0 476.9 165.5 Q475.5 169.0 475.4 173.0 Q475.3 177.0 475.5 180.2 Q475.7 183.5 475.4 186.0 L475.1 188.5" />
<path class="p" d="M486.9 146.2 Q487.2 158.2 487.2 162.7 Q487.1 167.2 485.7 170.7 Q484.3 174.2 484.2 178.2 Q484.1 182.2 484.3 185.1 Q484.5 188.1 484.2 190.6 L483.9 193.1" />
<path class="p" d="M495.8 151.4 Q496.1 163.4 496.0 167.9 Q496.0 172.4 494.6 175.9 Q493.2 179.4 493.1 183.4 Q493.0 187.4 493.2 190.0 Q493.4 192.7 493.1 195.2 L492.8 197.7" />
<path class="p" d="M504.6 156.6 Q504.9 168.6 504.9 173.1 Q504.8 177.6 503.4 181.1 Q502.0 184.6 501.9 188.6 Q501.8 192.6 502.0 194.9 Q502.2 197.3 501.9 199.8 L501.6 202.3" />
<path class="p" d="M513.5 161.7 Q513.8 173.7 513.7 178.2 Q513.7 182.7 512.3 186.2 Q510.9 189.7 510.8 193.7 Q510.7 197.7 510.9 199.8 Q511.1 201.9 510.8 204.4 L510.5 206.9" />
<path class="p" d="M522.3 166.9 Q522.6 178.9 522.6 183.4 Q522.5 187.9 521.1 191.4 Q519.7 194.9 519.6 198.9 Q519.5 202.9 519.7 204.7 Q519.9 206.5 519.6 209.0 L519.3 211.5" />
<path class="p" d="M531.2 172.1 Q531.5 184.1 531.4 188.6 Q531.4 193.1 530.0 196.6 Q528.6 200.1 528.5 204.1 Q528.4 208.1 528.6 209.6 Q528.8 211.1 528.5 213.6 L528.2 216.1" />
<path class="p" d="M540.0 177.3 Q540.3 189.3 540.3 193.8 Q540.2 198.3 538.8 201.8 Q537.4 205.3 537.3 209.3 Q537.2 213.3 537.4 214.0 Q537.6 214.7 537.3 217.2 L537.0 219.7" />
<path class="p" d="M548.9 182.5 Q549.2 194.5 549.1 199.0 Q549.1 203.5 547.7 207.0 Q546.3 210.5 546.2 214.5 Q546.1 218.5 546.3 217.5 Q546.5 216.4 546.2 218.9 L545.9 221.4" />
<path class="p" d="M557.7 187.7 Q558.0 199.7 558.0 204.2 Q557.9 208.7 556.5 212.2 Q555.1 215.7 555.0 219.7 Q554.9 223.7 555.1 220.9 Q555.3 218.0 555.0 220.5 L554.7 223.0" />
<line class="p" x1="366.0" y1="170.7" x2="366.0" y2="200.7" />
<line class="p" x1="375.7" y1="165.3" x2="375.7" y2="195.3" />
<line class="p" x1="385.4" y1="159.9" x2="385.4" y2="195.9" />
<line class="p" x1="402.0" y1="150.6" x2="402.0" y2="186.6" />
<line class="p" x1="421.6" y1="135.7" x2="421.6" y2="171.7" />
<line class="p" x1="442.9" y1="123.8" x2="442.9" y2="159.8" />
<path class="k" d="M356.5 190 Q354.3 188.5 354.5 184 L354.5 180.5 Q354.6 177.5 357.5 175.8 L403 150.3 L405 151.8 L417.5 144.6 L420.5 138.3 L445 125.6 Q450 123.4 454.5 126 L556 186 Q559.6 188.3 559.4 192.5 L559 204" />
<path class="p" d="M365.5 188.5 L416.5 161.8 L420.8 155.3 L447 141.3 Q450.5 139.8 454 141.8 L551.5 199 Q556 201.5 559 204" />
<path class="p" d="M372 203 L418 179 L423 172 L446 160" />
<ellipse class="w" cx="447.5" cy="162.5" rx="3.8" ry="4.4" />
<ellipse class="p" cx="447.8" cy="162.8" rx="1.7" ry="2.1" />
<path class="p" d="M451.5 150 L452 160" />
<g clip-path="url(#ucl)">
<line class="p" x1="431.5" y1="165.9" x2="536.0" y2="220.2" />
<line class="p" x1="433.0" y1="169.3" x2="533.0" y2="221.3" />
<line class="p" x1="452.0" y1="164.5" x2="486.0" y2="175.0" />
<line class="p" x1="420.0" y1="182.0" x2="528.0" y2="238.2" />
<line class="p" x1="423.0" y1="186.0" x2="520.0" y2="236.3" />
<path class="p" d="M449.0 174.0 Q448.5 181.0 447.2 183.5 Q446.0 186.0 443.5 188.0 Q441.0 190.0 439.2 191.5 Q437.5 193.0 436.8 195.5 L436.0 198.0" />
<path class="p" d="M457.9 178.6 Q457.4 185.6 456.1 188.1 Q454.9 190.6 452.4 192.6 Q449.9 194.6 448.1 196.1 Q446.4 197.6 445.6 200.1 L444.9 202.6" />
<path class="p" d="M466.7 183.2 Q466.2 190.2 465.0 192.7 Q463.7 195.2 461.2 197.2 Q458.7 199.2 457.0 200.7 Q455.2 202.2 454.5 204.7 L453.7 207.2" />
<path class="p" d="M475.6 187.8 Q475.1 194.8 473.8 197.3 Q472.6 199.8 470.1 201.8 Q467.6 203.8 465.8 205.3 Q464.1 206.8 463.3 209.3 L462.6 211.8" />
<path class="p" d="M484.4 192.4 Q483.9 199.4 482.7 201.9 Q481.4 204.4 478.9 206.4 Q476.4 208.4 474.7 209.9 Q472.9 211.4 472.2 213.9 L471.4 216.4" />
<path class="p" d="M493.3 197.0 Q492.8 204.0 491.5 206.5 Q490.3 209.0 487.8 211.0 Q485.3 213.0 483.5 214.5 Q481.8 216.0 481.0 218.5 L480.3 221.0" />
<path class="p" d="M502.1 201.6 Q501.6 208.6 500.4 211.1 Q499.1 213.6 496.6 215.6 Q494.1 217.6 492.4 219.1 Q490.6 220.6 489.9 223.1 L489.1 225.6" />
<path class="p" d="M511.0 206.2 Q510.5 213.2 509.2 215.7 Q508.0 218.2 505.5 220.2 Q503.0 222.2 501.2 223.7 Q499.5 225.2 498.7 227.7 L498.0 230.2" />
<path class="p" d="M519.8 210.8 Q519.3 217.8 518.1 220.3 Q516.8 222.8 514.3 224.8 Q511.8 226.8 510.1 228.3 Q508.3 229.8 507.6 232.3 L506.8 234.8" />
<path class="p" d="M528.7 215.4 Q528.2 222.4 526.9 224.9 Q525.7 227.4 523.2 229.4 Q520.7 231.4 518.9 232.9 Q517.2 234.4 516.4 236.9 L515.7 239.4" />
<path class="p" d="M537.5 220.0 Q537.0 227.0 535.8 229.5 Q534.5 232.0 532.0 234.0 Q529.5 236.0 527.8 237.5 Q526.0 239.0 525.3 241.5 L524.5 244.0" />
<path class="p" d="M470.0 210.0 Q469.0 217.0 466.5 219.5 Q464.0 222.0 463.0 226.0 Q462.0 230.0 459.5 233.0 L457.0 236.0" />
<path class="p" d="M479.4 214.9 Q478.4 221.9 475.9 224.4 Q473.4 226.9 472.4 230.9 Q471.4 234.9 468.9 237.9 L466.4 240.9" />
<path class="p" d="M488.8 219.8 Q487.8 226.8 485.3 229.3 Q482.8 231.8 481.8 235.8 Q480.8 239.8 478.3 242.8 L475.8 245.8" />
<path class="p" d="M498.2 224.7 Q497.2 231.7 494.7 234.2 Q492.2 236.7 491.2 240.7 Q490.2 244.7 487.7 247.7 L485.2 250.7" />
<path class="p" d="M507.6 229.6 Q506.6 236.6 504.1 239.1 Q501.6 241.6 500.6 245.6 Q499.6 249.6 497.1 252.6 L494.6 255.6" />
<path class="p" d="M517.0 234.4 Q516.0 241.4 513.5 243.9 Q511.0 246.4 510.0 250.4 Q509.0 254.4 506.5 257.4 L504.0 260.4" />
<path class="p" d="M526.4 239.3 Q525.4 246.3 522.9 248.8 Q520.4 251.3 519.4 255.3 Q518.4 259.3 515.9 262.3 L513.4 265.3" />
<path class="p" d="M535.8 244.2 Q534.8 251.2 532.3 253.7 Q529.8 256.2 528.8 260.2 Q527.8 264.2 525.3 267.2 L522.8 270.2" />
<path class="p" d="M375.0 195.1 Q381.0 204.1 385.5 208.1 Q390.0 212.1 395.0 212.8 Q400.0 213.6 405.5 209.3 Q411.0 205.1 415.0 199.6 Q419.0 194.1 422.5 189.6 Q426.0 185.1 428.0 180.6 L430.0 176.1" />
<path class="p" d="M384.2 200.4 Q390.2 209.4 394.7 213.4 Q399.2 217.4 404.2 218.2 Q409.2 218.9 414.7 214.7 Q420.2 210.4 424.2 204.9 Q428.2 199.4 431.7 194.7 Q435.2 189.9 437.2 185.4 L439.2 180.9" />
<path class="p" d="M393.4 205.8 Q399.4 214.8 403.9 218.8 Q408.4 222.8 413.4 223.6 Q418.4 224.3 423.9 220.1 Q429.4 215.8 433.4 210.3 Q437.4 204.8 440.9 199.8 Q444.4 194.7 446.4 190.2 L448.4 185.7" />
<path class="p" d="M402.6 211.2 Q408.6 220.2 413.1 224.2 Q417.6 228.2 422.6 229.0 Q427.6 229.7 433.1 225.5 Q438.6 221.2 442.6 215.7 Q446.6 210.2 450.1 204.8 Q453.6 199.5 455.6 195.0 L457.6 190.5" />
<path class="p" d="M411.8 216.6 Q417.8 225.6 422.3 229.6 Q426.8 233.6 431.8 234.4 Q436.8 235.1 442.3 230.9 Q447.8 226.6 451.8 221.1 Q455.8 215.6 459.3 209.9 Q462.8 204.3 464.8 199.8 L466.8 195.3" />
<path class="p" d="M421.0 222.0 Q427.0 231.0 431.5 235.0 Q436.0 239.0 441.0 239.7 Q446.0 240.5 451.5 236.2 Q457.0 232.0 461.0 226.5 Q465.0 221.0 468.5 215.0 Q472.0 209.0 474.0 204.5 L476.0 200.0" />
<path class="p" d="M430.2 227.4 Q436.2 236.4 440.7 240.4 Q445.2 244.4 450.2 245.1 Q455.2 245.9 460.7 241.6 Q466.2 237.4 470.2 231.9 Q474.2 226.4 477.7 220.1 Q481.2 213.8 483.2 209.3 L485.2 204.8" />
<path class="p" d="M439.4 232.8 Q445.4 241.8 449.9 245.8 Q454.4 249.8 459.4 250.5 Q464.4 251.3 469.9 247.0 Q475.4 242.8 479.4 237.3 Q483.4 231.8 486.9 225.2 Q490.4 218.6 492.4 214.1 L494.4 209.6" />
<path class="p" d="M448.6 238.2 Q454.6 247.2 459.1 251.2 Q463.6 255.2 468.6 255.9 Q473.6 256.7 479.1 252.4 Q484.6 248.2 488.6 242.7 Q492.6 237.2 496.1 230.3 Q499.6 223.4 501.6 218.9 L503.6 214.4" />
<path class="p" d="M457.8 243.6 Q463.8 252.6 468.3 256.6 Q472.8 260.6 477.8 261.3 Q482.8 262.1 488.3 257.8 Q493.8 253.6 497.8 248.1 Q501.8 242.6 505.3 235.4 Q508.8 228.2 510.8 223.7 L512.8 219.2" />
<path class="p" d="M467.0 248.9 Q473.0 257.9 477.5 261.9 Q482.0 265.9 487.0 266.7 Q492.0 267.4 497.5 263.2 Q503.0 258.9 507.0 253.4 Q511.0 247.9 514.5 240.5 Q518.0 233.0 520.0 228.5 L522.0 224.0" />
<line class="p" x1="384.0" y1="173.5" x2="396.5" y2="206.5" />
<line class="p" x1="391.6" y1="176.6" x2="404.1" y2="209.6" />
<line class="p" x1="399.2" y1="179.7" x2="411.7" y2="212.7" />
<line class="p" x1="406.8" y1="182.8" x2="419.3" y2="215.8" />
<line class="p" x1="414.4" y1="185.9" x2="426.9" y2="218.9" />
<line class="p" x1="422.0" y1="189.0" x2="434.5" y2="222.0" />
<line class="p" x1="429.6" y1="192.1" x2="442.1" y2="225.1" />
<line class="p" x1="437.2" y1="195.2" x2="449.7" y2="228.2" />
<line class="p" x1="444.8" y1="198.3" x2="457.3" y2="231.3" />
<path class="p" d="M421.0 223.3 Q422.5 208.3 424.2 203.8 Q426.0 199.3 428.0 200.8 Q430.0 202.3 430.8 207.3 Q431.5 212.3 431.2 216.3 L431.0 220.3" />
<line class="p" x1="427.0" y1="201.3" x2="427.7" y2="189.3" />
<path class="p" d="M430.4 228.2 Q431.9 213.2 433.6 208.7 Q435.4 204.2 437.4 205.7 Q439.4 207.2 440.1 212.2 Q440.9 217.2 440.6 221.2 L440.4 225.2" />
<line class="p" x1="436.4" y1="206.2" x2="437.1" y2="194.2" />
<path class="p" d="M439.8 233.1 Q441.3 218.1 443.0 213.6 Q444.8 209.1 446.8 210.6 Q448.8 212.1 449.5 217.1 Q450.3 222.1 450.0 226.1 L449.8 230.1" />
<line class="p" x1="445.8" y1="211.1" x2="446.5" y2="199.1" />
<path class="p" d="M449.2 238.0 Q450.7 223.0 452.4 218.5 Q454.2 214.0 456.2 215.5 Q458.2 217.0 458.9 222.0 Q459.7 227.0 459.4 231.0 L459.2 235.0" />
<line class="p" x1="455.2" y1="216.0" x2="455.9" y2="204.0" />
<path class="p" d="M458.6 242.9 Q460.1 227.9 461.8 223.4 Q463.6 218.9 465.6 220.4 Q467.6 221.9 468.3 226.9 Q469.1 231.9 468.8 235.9 L468.6 239.9" />
<line class="p" x1="464.6" y1="220.9" x2="465.3" y2="208.9" />
<path class="p" d="M468.0 247.8 Q469.5 232.8 471.2 228.3 Q473.0 223.8 475.0 225.3 Q477.0 226.8 477.7 231.8 Q478.5 236.8 478.2 240.8 L478.0 244.8" />
<line class="p" x1="474.0" y1="225.8" x2="474.7" y2="213.8" />
<path class="p" d="M477.4 252.6 Q478.9 237.6 480.6 233.1 Q482.4 228.6 484.4 230.1 Q486.4 231.6 487.1 236.6 Q487.9 241.6 487.6 245.6 L487.4 249.6" />
<line class="p" x1="483.4" y1="230.6" x2="484.1" y2="218.6" />
<path class="p" d="M486.8 257.5 Q488.3 242.5 490.0 238.0 Q491.8 233.5 493.8 235.0 Q495.8 236.5 496.5 241.5 Q497.3 246.5 497.0 250.5 L496.8 254.5" />
<line class="p" x1="492.8" y1="235.5" x2="493.5" y2="223.5" />
<path class="p" d="M496.2 262.4 Q497.7 247.4 499.4 242.9 Q501.2 238.4 503.2 239.9 Q505.2 241.4 505.9 246.4 Q506.7 251.4 506.4 255.4 L506.2 259.4" />
<line class="p" x1="502.2" y1="240.4" x2="502.9" y2="228.4" />
<path class="p" d="M505.6 267.3 Q507.1 252.3 508.8 247.8 Q510.6 243.3 512.6 244.8 Q514.6 246.3 515.3 251.3 Q516.1 256.3 515.8 260.3 L515.6 264.3" />
<line class="p" x1="511.6" y1="245.3" x2="512.3" y2="233.3" />
<path class="p" d="M515.0 272.2 Q516.5 257.2 518.2 252.7 Q520.0 248.2 522.0 249.7 Q524.0 251.2 524.7 256.2 Q525.5 261.2 525.2 265.2 L525.0 269.2" />
<line class="p" x1="521.0" y1="250.2" x2="521.7" y2="238.2" />
<line class="p" x1="398.0" y1="216.0" x2="500.0" y2="272.0" />
<line class="p" x1="410.0" y1="212.0" x2="520.0" y2="268.0" />
</g>
<line class="k" x1="365.0" y1="189.2" x2="471.0" y2="251.3" style="stroke-width:2.2"/>
<line class="p" x1="367.0" y1="193.8" x2="470.0" y2="254.3" />
<line class="p" x1="372.0" y1="203.0" x2="466.0" y2="257.0" style="stroke-width:0.9"/>
<line class="k" x1="372.0" y1="213.0" x2="466.0" y2="267.5" style="stroke-width:1.6"/>
<path class="p" d="M367.0 190.4 L367.4 206.4 Q368.0 212.4 370.0 212.4 Q371.6 211.4 372.6 205.4 L375.3 197.2" />
<path class="p" d="M376.2 195.8 L376.6 215.8 Q377.2 221.8 379.2 221.8 Q380.8 220.8 381.8 214.8 L384.5 202.6" />
<path class="p" d="M385.4 201.1 L385.8 224.6 Q386.4 230.6 388.4 230.6 Q390.0 229.6 391.0 223.6 L393.7 208.0" />
<path class="p" d="M394.6 206.5 L395.0 230.0 Q395.6 236.0 397.6 236.0 Q399.2 235.0 400.2 229.0 L402.9 213.4" />
<path class="p" d="M403.8 211.9 L404.2 235.4 Q404.8 241.4 406.8 241.4 Q408.4 240.4 409.4 234.4 L412.1 218.8" />
<path class="p" d="M413.0 217.3 L413.4 240.8 Q414.0 246.8 416.0 246.8 Q417.6 245.8 418.6 239.8 L421.3 224.2" />
<path class="p" d="M422.2 222.7 L422.6 246.2 Q423.2 252.2 425.2 252.2 Q426.8 251.2 427.8 245.2 L430.5 229.6" />
<path class="p" d="M431.4 228.1 L431.8 251.6 Q432.4 257.6 434.4 257.6 Q436.0 256.6 437.0 250.6 L439.7 235.0" />
<path class="p" d="M440.6 233.5 L441.0 257.0 Q441.6 263.0 443.6 263.0 Q445.2 262.0 446.2 256.0 L448.9 240.3" />
<path class="p" d="M449.8 238.9 L450.2 262.4 Q450.8 268.4 452.8 268.4 Q454.4 267.4 455.4 261.4 L458.1 245.7" />
<path class="p" d="M459.0 244.3 L459.4 267.8 Q460.0 273.8 462.0 273.8 Q463.6 272.8 464.6 266.8 L467.3 251.1" />
<path class="p" d="M362 186.5 L362 205 Q362.5 208 365.5 209" />
<path class="p" d="M355 216.5 Q358 212 361.5 214.5 Q364 217.5 368 216 L372 219.5" />
<path d="M360.5 187 L360.5 207 M358.8 192 L358.8 206" style="stroke:#777;stroke-width:1.2;fill:none"/>
<path class="p" d="M558.0 200.7 Q555.6 204.1 554.4 204.6 Q553.2 205.1 552.0 204.8 Q550.8 204.5 549.6 204.5 Q548.4 204.6 547.2 205.8 Q546.0 207.0 544.8 209.1 Q543.6 211.1 542.4 212.8 Q541.2 214.5 540.0 215.0 Q538.8 215.5 537.6 215.2 Q536.4 214.9 535.2 214.9 Q534.0 215.0 532.8 216.2 Q531.6 217.4 530.4 219.5 Q529.2 221.5 528.0 223.2 Q526.8 224.9 525.6 225.4 Q524.4 225.9 523.2 225.6 Q522.0 225.3 520.8 225.3 Q519.6 225.4 518.4 226.6 Q517.2 227.8 516.0 229.9 Q514.8 231.9 513.6 233.6 Q512.4 235.3 511.2 235.8 Q510.0 236.3 508.8 236.0 Q507.6 235.7 506.4 235.7 Q505.2 235.8 504.0 237.0 Q502.8 238.2 501.6 240.3 Q500.4 242.3 499.2 244.0 Q498.0 245.7 496.8 246.2 Q495.6 246.7 494.4 246.4 Q493.2 246.1 492.0 246.1 Q490.8 246.2 489.6 247.4 Q488.4 248.6 487.2 250.7 L486.0 252.7" />
<path class="p" d="M555.0 220.8 Q552.4 221.4 551.0 220.8 Q549.7 220.2 548.4 220.1 Q547.1 220.0 545.8 221.3 Q544.5 222.6 543.2 224.8 Q541.8 227.0 540.5 228.7 Q539.2 230.4 537.9 230.7 Q536.6 231.0 535.2 230.4 Q533.9 229.8 532.6 229.7 Q531.3 229.6 530.0 230.9 Q528.7 232.2 527.3 234.4 Q526.0 236.6 524.7 238.3 Q523.4 240.0 522.1 240.3 Q520.8 240.6 519.5 240.0 Q518.1 239.4 516.8 239.3 Q515.5 239.2 514.2 240.5 Q512.9 241.8 511.6 244.0 Q510.2 246.2 508.9 247.9 Q507.6 249.6 506.3 249.9 Q505.0 250.2 503.6 249.6 Q502.3 249.0 501.0 248.9 Q499.7 248.8 498.4 250.1 Q497.1 251.4 495.8 253.6 Q494.4 255.8 493.1 257.5 Q491.8 259.2 490.5 259.5 Q489.2 259.8 487.8 259.2 Q486.5 258.6 485.2 258.5 Q483.9 258.4 482.6 259.7 Q481.3 261.0 479.9 263.2 Q478.6 265.4 477.3 267.1 L476.0 268.8" />
<path class="p" d="M553.0 228.4 Q550.2 227.8 548.9 227.4 Q547.5 226.9 546.1 227.6 Q544.7 228.2 543.3 230.1 Q541.9 231.9 540.5 233.8 Q539.2 235.8 537.8 236.7 Q536.4 237.6 535.0 237.3 Q533.6 237.0 532.2 236.6 Q530.9 236.1 529.5 236.8 Q528.1 237.4 526.7 239.3 Q525.3 241.1 524.0 243.0 Q522.6 245.0 521.2 245.9 Q519.8 246.8 518.4 246.5 Q517.0 246.2 515.6 245.8 Q514.3 245.3 512.9 246.0 Q511.5 246.6 510.1 248.5 Q508.7 250.3 507.4 252.2 Q506.0 254.2 504.6 255.1 Q503.2 256.0 501.8 255.7 Q500.4 255.4 499.1 255.0 Q497.7 254.5 496.3 255.2 Q494.9 255.8 493.5 257.7 Q492.1 259.5 490.8 261.4 Q489.4 263.4 488.0 264.3 Q486.6 265.2 485.2 264.9 Q483.8 264.6 482.4 264.2 Q481.1 263.7 479.7 264.4 Q478.3 265.0 476.9 266.9 Q475.5 268.7 474.1 270.6 Q472.8 272.6 471.4 273.5 L470.0 274.4" />
<path class="p" d="M554.6 196.5 Q554.1 205.5 552.8 208.0 Q551.6 210.5 551.3 216.9 L551.1 223.3" />
<path class="p" d="M543.1 204.8 Q542.6 213.8 541.4 216.3 Q540.1 218.8 539.9 224.9 L539.6 231.0" />
<path class="p" d="M531.7 213.1 Q531.2 222.1 530.0 224.6 Q528.7 227.1 528.5 232.9 L528.2 238.7" />
<path class="p" d="M520.3 221.3 Q519.8 230.3 518.5 232.8 Q517.3 235.3 517.0 240.9 L516.8 246.5" />
<path class="p" d="M508.9 229.6 Q508.4 238.6 507.1 241.1 Q505.9 243.6 505.6 248.9 L505.4 254.2" />
<path class="p" d="M497.4 237.9 Q496.9 246.9 495.7 249.4 Q494.4 251.9 494.2 256.9 L493.9 261.9" />
<path class="p" d="M486.0 246.2 Q485.5 255.2 484.2 257.7 Q483.0 260.2 482.8 264.9 L482.5 269.6" />
<path class="p" d="M559 204 L557.8 222 Q556.5 227.5 552 228.5" />
<path class="p" d="M553.3 190 L552.8 226" />
</g>
<g id="lbasket">
<line class="p" x1="326.0" y1="392.0" x2="326.0" y2="412.0" />
<line class="p" x1="338.0" y1="384.9" x2="338.0" y2="404.9" />
<line class="p" x1="356.0" y1="374.2" x2="356.0" y2="403.2" />
<line class="p" x1="371.0" y1="365.3" x2="371.0" y2="385.3" />
<line class="p" x1="382.0" y1="358.8" x2="382.0" y2="387.8" />
<line class="p" x1="401.0" y1="347.6" x2="401.0" y2="367.6" />
<line class="p" x1="423.0" y1="356.6" x2="423.0" y2="376.1" />
<line class="p" x1="445.0" y1="369.8" x2="445.0" y2="389.3" />
<path class="p" d="M459 378.2 L459 386.2 L456 392.2 L456 398.2" />
<path class="p" d="M470 384.9 L470 392.9 L467 398.9 L467 404.9" />
<line class="p" x1="487.0" y1="395.1" x2="487.0" y2="414.6" />
<line class="p" x1="508.0" y1="407.7" x2="508.0" y2="427.2" />
<defs><clipPath id="lcl"><path d="M312 398 L404 343 L517 411 L517 435 L503 445.5 L437 481.5 L419 486.5 L312 420 Z"/></clipPath></defs>
<g clip-path="url(#lcl)">
<line class="p" x1="327.2" y1="418.3" x2="433.7" y2="480.4" />
<line class="p" x1="340.1" y1="410.6" x2="447.4" y2="472.9" />
<line class="p" x1="356.7" y1="400.8" x2="465.0" y2="463.3" />
<line class="p" x1="371.4" y1="392.1" x2="480.7" y2="454.8" />
<line class="p" x1="384.3" y1="384.5" x2="494.4" y2="447.3" />
<line class="p" x1="398.1" y1="376.3" x2="509.1" y2="439.2" />
<line class="p" x1="323.1" y1="430.6" x2="415.6" y2="377.2" />
<line class="p" x1="341.0" y1="441.8" x2="434.6" y2="388.6" />
<line class="p" x1="356.8" y1="451.7" x2="451.3" y2="398.6" />
<line class="p" x1="373.7" y1="462.3" x2="469.2" y2="409.4" />
<line class="p" x1="390.6" y1="472.8" x2="487.0" y2="420.1" />
<line class="p" x1="407.4" y1="483.4" x2="504.9" y2="430.8" />
<line class="p" x1="325.3" y1="424.1" x2="327.8" y2="413.1" style="stroke-width:0.9"/>
<line class="p" x1="330.8" y1="420.9" x2="333.3" y2="409.9" style="stroke-width:0.9"/>
<line class="p" x1="336.4" y1="417.6" x2="338.9" y2="406.6" style="stroke-width:0.9"/>
<line class="p" x1="341.9" y1="414.4" x2="344.4" y2="403.4" style="stroke-width:0.9"/>
<line class="p" x1="347.5" y1="411.1" x2="350.0" y2="400.1" style="stroke-width:0.9"/>
<line class="p" x1="353.0" y1="407.8" x2="355.5" y2="396.8" style="stroke-width:0.9"/>
<line class="p" x1="358.5" y1="404.6" x2="361.0" y2="393.6" style="stroke-width:0.9"/>
<line class="p" x1="367.8" y1="399.1" x2="370.3" y2="388.1" style="stroke-width:0.9"/>
<line class="p" x1="373.5" y1="395.7" x2="376.0" y2="384.7" style="stroke-width:0.9"/>
<line class="p" x1="379.2" y1="392.4" x2="381.7" y2="381.4" style="stroke-width:0.9"/>
<line class="p" x1="384.9" y1="389.0" x2="387.4" y2="378.0" style="stroke-width:0.9"/>
<line class="p" x1="390.6" y1="385.7" x2="393.1" y2="374.7" style="stroke-width:0.9"/>
<line class="p" x1="341.7" y1="434.4" x2="344.2" y2="423.4" style="stroke-width:0.9"/>
<line class="p" x1="347.3" y1="431.1" x2="349.8" y2="420.1" style="stroke-width:0.9"/>
<line class="p" x1="352.9" y1="427.9" x2="355.4" y2="416.9" style="stroke-width:0.9"/>
<line class="p" x1="358.5" y1="424.6" x2="361.0" y2="413.6" style="stroke-width:0.9"/>
<line class="p" x1="364.1" y1="421.4" x2="366.6" y2="410.4" style="stroke-width:0.9"/>
<line class="p" x1="369.7" y1="418.1" x2="372.2" y2="407.1" style="stroke-width:0.9"/>
<line class="p" x1="375.3" y1="414.8" x2="377.8" y2="403.8" style="stroke-width:0.9"/>
<line class="p" x1="384.6" y1="409.4" x2="387.1" y2="398.4" style="stroke-width:0.9"/>
<line class="p" x1="390.4" y1="406.1" x2="392.9" y2="395.1" style="stroke-width:0.9"/>
<line class="p" x1="396.1" y1="402.7" x2="398.6" y2="391.7" style="stroke-width:0.9"/>
<line class="p" x1="401.9" y1="399.4" x2="404.4" y2="388.4" style="stroke-width:0.9"/>
<line class="p" x1="407.6" y1="396.0" x2="410.1" y2="385.0" style="stroke-width:0.9"/>
<line class="p" x1="413.4" y1="392.7" x2="415.9" y2="381.7" style="stroke-width:0.9"/>
<line class="p" x1="419.1" y1="389.3" x2="421.6" y2="378.3" style="stroke-width:0.9"/>
<line class="p" x1="358.1" y1="444.6" x2="360.6" y2="433.6" style="stroke-width:0.9"/>
<line class="p" x1="363.8" y1="441.4" x2="366.3" y2="430.4" style="stroke-width:0.9"/>
<line class="p" x1="369.4" y1="438.1" x2="371.9" y2="427.1" style="stroke-width:0.9"/>
<line class="p" x1="375.1" y1="434.9" x2="377.6" y2="423.9" style="stroke-width:0.9"/>
<line class="p" x1="380.7" y1="431.6" x2="383.2" y2="420.6" style="stroke-width:0.9"/>
<line class="p" x1="386.4" y1="428.4" x2="388.9" y2="417.4" style="stroke-width:0.9"/>
<line class="p" x1="392.0" y1="425.1" x2="394.5" y2="414.1" style="stroke-width:0.9"/>
<line class="p" x1="401.5" y1="419.7" x2="404.0" y2="408.7" style="stroke-width:0.9"/>
<line class="p" x1="407.3" y1="416.4" x2="409.8" y2="405.4" style="stroke-width:0.9"/>
<line class="p" x1="413.1" y1="413.1" x2="415.6" y2="402.1" style="stroke-width:0.9"/>
<line class="p" x1="418.9" y1="409.7" x2="421.4" y2="398.7" style="stroke-width:0.9"/>
<line class="p" x1="424.7" y1="406.4" x2="427.2" y2="395.4" style="stroke-width:0.9"/>
<line class="p" x1="430.5" y1="403.0" x2="433.0" y2="392.0" style="stroke-width:0.9"/>
<line class="p" x1="436.3" y1="399.7" x2="438.8" y2="388.7" style="stroke-width:0.9"/>
<line class="p" x1="374.5" y1="454.9" x2="377.0" y2="443.9" style="stroke-width:0.9"/>
<line class="p" x1="380.3" y1="451.6" x2="382.8" y2="440.6" style="stroke-width:0.9"/>
<line class="p" x1="386.0" y1="448.4" x2="388.5" y2="437.4" style="stroke-width:0.9"/>
<line class="p" x1="391.7" y1="445.2" x2="394.2" y2="434.2" style="stroke-width:0.9"/>
<line class="p" x1="397.4" y1="441.9" x2="399.9" y2="430.9" style="stroke-width:0.9"/>
<line class="p" x1="403.1" y1="438.7" x2="405.6" y2="427.7" style="stroke-width:0.9"/>
<line class="p" x1="408.8" y1="435.4" x2="411.3" y2="424.4" style="stroke-width:0.9"/>
<line class="p" x1="418.3" y1="430.0" x2="420.8" y2="419.0" style="stroke-width:0.9"/>
<line class="p" x1="424.2" y1="426.7" x2="426.7" y2="415.7" style="stroke-width:0.9"/>
<line class="p" x1="430.1" y1="423.4" x2="432.6" y2="412.4" style="stroke-width:0.9"/>
<line class="p" x1="435.9" y1="420.1" x2="438.4" y2="409.1" style="stroke-width:0.9"/>
<line class="p" x1="441.8" y1="416.7" x2="444.3" y2="405.7" style="stroke-width:0.9"/>
<line class="p" x1="447.7" y1="413.4" x2="450.2" y2="402.4" style="stroke-width:0.9"/>
<line class="p" x1="453.5" y1="410.1" x2="456.0" y2="399.1" style="stroke-width:0.9"/>
<line class="p" x1="391.0" y1="465.1" x2="393.5" y2="454.1" style="stroke-width:0.9"/>
<line class="p" x1="396.7" y1="461.9" x2="399.2" y2="450.9" style="stroke-width:0.9"/>
<line class="p" x1="402.5" y1="458.7" x2="405.0" y2="447.7" style="stroke-width:0.9"/>
<line class="p" x1="408.3" y1="455.4" x2="410.8" y2="444.4" style="stroke-width:0.9"/>
<line class="p" x1="414.0" y1="452.2" x2="416.5" y2="441.2" style="stroke-width:0.9"/>
<line class="p" x1="419.8" y1="449.0" x2="422.3" y2="438.0" style="stroke-width:0.9"/>
<line class="p" x1="425.6" y1="445.7" x2="428.1" y2="434.7" style="stroke-width:0.9"/>
<line class="p" x1="435.2" y1="440.4" x2="437.7" y2="429.4" style="stroke-width:0.9"/>
<line class="p" x1="441.1" y1="437.0" x2="443.6" y2="426.0" style="stroke-width:0.9"/>
<line class="p" x1="447.0" y1="433.7" x2="449.5" y2="422.7" style="stroke-width:0.9"/>
<line class="p" x1="452.9" y1="430.4" x2="455.4" y2="419.4" style="stroke-width:0.9"/>
<line class="p" x1="458.9" y1="427.1" x2="461.4" y2="416.1" style="stroke-width:0.9"/>
<line class="p" x1="464.8" y1="423.8" x2="467.3" y2="412.8" style="stroke-width:0.9"/>
<line class="p" x1="470.7" y1="420.4" x2="473.2" y2="409.4" style="stroke-width:0.9"/>
<line class="p" x1="407.4" y1="475.4" x2="409.9" y2="464.4" style="stroke-width:0.9"/>
<line class="p" x1="413.2" y1="472.1" x2="415.7" y2="461.1" style="stroke-width:0.9"/>
<line class="p" x1="419.0" y1="468.9" x2="421.5" y2="457.9" style="stroke-width:0.9"/>
<line class="p" x1="424.8" y1="465.7" x2="427.3" y2="454.7" style="stroke-width:0.9"/>
<line class="p" x1="430.7" y1="462.5" x2="433.2" y2="451.5" style="stroke-width:0.9"/>
<line class="p" x1="436.5" y1="459.3" x2="439.0" y2="448.3" style="stroke-width:0.9"/>
<line class="p" x1="442.3" y1="456.0" x2="444.8" y2="445.0" style="stroke-width:0.9"/>
<line class="p" x1="452.0" y1="450.7" x2="454.5" y2="439.7" style="stroke-width:0.9"/>
<line class="p" x1="458.0" y1="447.4" x2="460.5" y2="436.4" style="stroke-width:0.9"/>
<line class="p" x1="464.0" y1="444.0" x2="466.5" y2="433.0" style="stroke-width:0.9"/>
<line class="p" x1="470.0" y1="440.7" x2="472.5" y2="429.7" style="stroke-width:0.9"/>
<line class="p" x1="475.9" y1="437.4" x2="478.4" y2="426.4" style="stroke-width:0.9"/>
<line class="p" x1="481.9" y1="434.1" x2="484.4" y2="423.1" style="stroke-width:0.9"/>
<line class="p" x1="487.9" y1="430.8" x2="490.4" y2="419.8" style="stroke-width:0.9"/>
<line class="p" x1="421.7" y1="484.3" x2="424.2" y2="473.3" style="stroke-width:0.9"/>
<line class="p" x1="427.6" y1="481.1" x2="430.1" y2="470.1" style="stroke-width:0.9"/>
<line class="p" x1="433.4" y1="477.8" x2="435.9" y2="466.8" style="stroke-width:0.9"/>
<line class="p" x1="439.3" y1="474.6" x2="441.8" y2="463.6" style="stroke-width:0.9"/>
<line class="p" x1="445.2" y1="471.4" x2="447.7" y2="460.4" style="stroke-width:0.9"/>
<line class="p" x1="451.0" y1="468.2" x2="453.5" y2="457.2" style="stroke-width:0.9"/>
<line class="p" x1="456.9" y1="465.0" x2="459.4" y2="454.0" style="stroke-width:0.9"/>
<line class="p" x1="466.7" y1="459.6" x2="469.2" y2="448.6" style="stroke-width:0.9"/>
<line class="p" x1="472.7" y1="456.3" x2="475.2" y2="445.3" style="stroke-width:0.9"/>
<line class="p" x1="478.7" y1="453.0" x2="481.2" y2="442.0" style="stroke-width:0.9"/>
<line class="p" x1="484.8" y1="449.7" x2="487.3" y2="438.7" style="stroke-width:0.9"/>
<line class="p" x1="490.8" y1="446.4" x2="493.3" y2="435.4" style="stroke-width:0.9"/>
<line class="p" x1="496.8" y1="443.1" x2="499.3" y2="432.1" style="stroke-width:0.9"/>
<line class="p" x1="502.9" y1="439.8" x2="505.4" y2="428.8" style="stroke-width:0.9"/>
</g>
<path class="k" d="M312.5 424 L312.5 402 Q312.3 398.5 315.3 396.8 L359 371.2 L361 372.2 L377 362.8 L379 359.6 L400 347.2 Q404.5 344.3 409 346 L507.5 403.3 L516 412.8 Q517.2 415 515.2 416.8 L504 426 L435 463.5 Q428 467 422 464.8 L313.5 401.5" />
<path class="k" d="M312.5 417.5 L357 392.8 L359.5 391 L377 381.8 L379.5 379 L400 367 Q404 364.8 408 366.6 L502 422.5 L516 432.8 Q517.2 435 515.2 436.8 L502 446 L437 481.8 Q428 486.5 420 486.6 Q416.5 486.5 413.5 484.7 L312.8 420.5" />
<path class="p" d="M516.3 414 L516.3 434 M506 424.5 L506 443" />
<line class="p" x1="327.0" y1="410.1" x2="327.0" y2="430.6" />
<line class="p" x1="339.0" y1="417.6" x2="339.0" y2="438.1" />
<line class="p" x1="348.0" y1="423.2" x2="348.0" y2="443.7" />
<line class="p" x1="362.0" y1="432.0" x2="362.0" y2="452.5" />
<line class="p" x1="372.0" y1="438.2" x2="372.0" y2="458.7" />
<line class="p" x1="390.0" y1="449.5" x2="390.0" y2="470.0" />
<line class="p" x1="410.0" y1="462.0" x2="410.0" y2="482.5" />
<path class="p" d="M320 426.7 L321.2 430.0 L323.2 428.9" />
<path class="p" d="M333 434.8 L334.2 438.1 L336.2 437.0" />
<path class="p" d="M352 446.7 L353.2 450.0 L355.2 448.9" />
<path class="p" d="M368 456.7 L369.2 460.0 L371.2 458.9" />
<path class="p" d="M381 464.9 L382.2 468.2 L384.2 467.1" />
<path class="p" d="M398 475.5 L399.2 478.8 L401.2 477.7" />
<path class="p" d="M405 479.9 L406.2 483.2 L408.2 482.1" />
<path class="p" d="M458 448.0 L458 477.0 L448 471.0" />
<path class="p" d="M477 436.8 L477 465.8 L467 459.8" />
<path class="p" d="M490 429.2 L490 458.2 L480 452.2" />
<path class="p" d="M501 422.8 L501 451.8 L491 445.8" />
<path class="p" d="M436 463 L436 482.5" />
<path class="k" d="M412 378 L414.5 369 M415 380 L418 370 M412 378 Q414 381.5 416.5 379.5" />
<path class="k" d="M433 390 L435.5 381 M436 392 L439 382 M433 390 Q435 393.5 437.5 391.5" />
<path class="k" d="M477 417 L479.5 408 M480 419 L483 409 M477 417 Q479 420.5 481.5 418.5" />
<path class="k" d="M500 432 L502.5 423 M503 434 L506 424 M500 432 Q502 435.5 504.5 433.5" />
</g>
<ellipse class="d" cx="304.5" cy="446.0" rx="4.8" ry="5.2" transform="rotate(-25 304.5 446.0)" style="fill:#111"/>
<ellipse class="w" cx="305.6" cy="445.7" rx="3.2" ry="3.8" transform="rotate(-25 305.6 445.7)" style="stroke-width:0.9"/>
<ellipse class="d" cx="306.0" cy="445.7" rx="1.9" ry="2.4" transform="rotate(-25 306.0 445.7)" style="fill:#555"/>
<ellipse class="w" cx="314.0" cy="437.9" rx="1.8" ry="1.6" style="stroke-width:1.3"/>
<ellipse class="w" cx="313.4" cy="441.0" rx="2.0" ry="1.7" style="stroke-width:1.3"/>
<path class="p" d="M316.0 439 Q321.5 439 322.0 431.5" />
<ellipse class="d" cx="325.5" cy="458.5" rx="4.8" ry="5.2" transform="rotate(-25 325.5 458.5)" style="fill:#111"/>
<ellipse class="w" cx="326.6" cy="458.2" rx="3.2" ry="3.8" transform="rotate(-25 326.6 458.2)" style="stroke-width:0.9"/>
<ellipse class="d" cx="327.0" cy="458.2" rx="1.9" ry="2.4" transform="rotate(-25 327.0 458.2)" style="fill:#555"/>
<ellipse class="w" cx="335.0" cy="450.4" rx="1.8" ry="1.6" style="stroke-width:1.3"/>
<ellipse class="w" cx="334.4" cy="453.5" rx="2.0" ry="1.7" style="stroke-width:1.3"/>
<path class="p" d="M337.0 451.5 Q342.5 451.5 343.0 444.0" />
<ellipse class="d" cx="371.0" cy="484.5" rx="4.8" ry="5.2" transform="rotate(-25 371.0 484.5)" style="fill:#111"/>
<ellipse class="w" cx="372.1" cy="484.2" rx="3.2" ry="3.8" transform="rotate(-25 372.1 484.2)" style="stroke-width:0.9"/>
<ellipse class="d" cx="372.5" cy="484.2" rx="1.9" ry="2.4" transform="rotate(-25 372.5 484.2)" style="fill:#555"/>
<ellipse class="w" cx="380.5" cy="476.4" rx="1.8" ry="1.6" style="stroke-width:1.3"/>
<ellipse class="w" cx="379.9" cy="479.5" rx="2.0" ry="1.7" style="stroke-width:1.3"/>
<path class="p" d="M382.5 477.5 Q388 477.5 388.5 470.0" />
<ellipse class="d" cx="392.5" cy="497.5" rx="4.8" ry="5.2" transform="rotate(-25 392.5 497.5)" style="fill:#111"/>
<ellipse class="w" cx="393.6" cy="497.2" rx="3.2" ry="3.8" transform="rotate(-25 393.6 497.2)" style="stroke-width:0.9"/>
<ellipse class="d" cx="394.0" cy="497.2" rx="1.9" ry="2.4" transform="rotate(-25 394.0 497.2)" style="fill:#555"/>
<ellipse class="w" cx="402.0" cy="489.4" rx="1.8" ry="1.6" style="stroke-width:1.3"/>
<ellipse class="w" cx="401.4" cy="492.5" rx="2.0" ry="1.7" style="stroke-width:1.3"/>
<path class="p" d="M404.0 490.5 Q409.5 490.5 410.0 483.0" />
<ellipse class="d" cx="338.0" cy="216.5" rx="5.6" ry="6.6" transform="rotate(-35 338.0 216.5)" style="fill:#333"/>
<ellipse class="w" cx="339.5" cy="215.9" rx="4.3" ry="5.3" transform="rotate(-35 339.5 215.9)" style="stroke-width:1.0"/>
<ellipse class="d" cx="340.1" cy="215.6" rx="3.0" ry="3.9" transform="rotate(-35 340.1 215.6)" style="fill:#aaa"/>
<ellipse class="w" cx="340.7" cy="215.4" rx="1.8" ry="2.5" transform="rotate(-35 340.7 215.4)" style="stroke-width:0.8"/>
<ellipse class="d" cx="338.0" cy="231.0" rx="5.6" ry="6.6" transform="rotate(-35 338.0 231.0)" style="fill:#333"/>
<ellipse class="w" cx="339.5" cy="230.4" rx="4.3" ry="5.3" transform="rotate(-35 339.5 230.4)" style="stroke-width:1.0"/>
<ellipse class="d" cx="340.1" cy="230.1" rx="3.0" ry="3.9" transform="rotate(-35 340.1 230.1)" style="fill:#aaa"/>
<ellipse class="w" cx="340.7" cy="229.9" rx="1.8" ry="2.5" transform="rotate(-35 340.7 229.9)" style="stroke-width:0.8"/>
<ellipse class="d" cx="372.5" cy="239.5" rx="5.6" ry="6.6" transform="rotate(-35 372.5 239.5)" style="fill:#333"/>
<ellipse class="w" cx="374.0" cy="238.9" rx="4.3" ry="5.3" transform="rotate(-35 374.0 238.9)" style="stroke-width:1.0"/>
<ellipse class="d" cx="374.6" cy="238.6" rx="3.0" ry="3.9" transform="rotate(-35 374.6 238.6)" style="fill:#aaa"/>
<ellipse class="w" cx="375.2" cy="238.4" rx="1.8" ry="2.5" transform="rotate(-35 375.2 238.4)" style="stroke-width:0.8"/>
<ellipse class="d" cx="372.5" cy="253.5" rx="5.6" ry="6.6" transform="rotate(-35 372.5 253.5)" style="fill:#333"/>
<ellipse class="w" cx="374.0" cy="252.9" rx="4.3" ry="5.3" transform="rotate(-35 374.0 252.9)" style="stroke-width:1.0"/>
<ellipse class="d" cx="374.6" cy="252.6" rx="3.0" ry="3.9" transform="rotate(-35 374.6 252.6)" style="fill:#aaa"/>
<ellipse class="w" cx="375.2" cy="252.4" rx="1.8" ry="2.5" transform="rotate(-35 375.2 252.4)" style="stroke-width:0.8"/>
<ellipse class="d" cx="349.0" cy="211.5" rx="2.2" ry="1.9" style="fill:#333"/>
<ellipse class="w" cx="346.8" cy="210.3" rx="1.5" ry="1.7" style="stroke-width:1.2"/>
<ellipse class="d" cx="349.5" cy="226.5" rx="2.2" ry="1.9" style="fill:#333"/>
<ellipse class="w" cx="347.3" cy="225.3" rx="1.5" ry="1.7" style="stroke-width:1.2"/>
<ellipse class="d" cx="381.0" cy="232.0" rx="2.2" ry="1.9" style="fill:#333"/>
<ellipse class="w" cx="378.8" cy="230.8" rx="1.5" ry="1.7" style="stroke-width:1.2"/>
<ellipse class="d" cx="382.0" cy="247.0" rx="2.2" ry="1.9" style="fill:#333"/>
<ellipse class="w" cx="379.8" cy="245.8" rx="1.5" ry="1.7" style="stroke-width:1.2"/>
<line class="l" x1="325.0" y1="191.5" x2="363.0" y2="188.5" />
<line class="l" x1="325.0" y1="191.5" x2="333.0" y2="210.0" />
<line class="l" x1="325.0" y1="191.5" x2="342.0" y2="206.0" />
<line class="l" x1="393.0" y1="265.5" x2="378.0" y2="259.0" />
<line class="l" x1="393.0" y1="265.5" x2="384.0" y2="250.0" />
<line class="l" x1="292.5" y1="423.3" x2="308.0" y2="425.0" />
<line class="l" x1="292.5" y1="423.3" x2="300.0" y2="440.0" />
<line class="l" x1="292.5" y1="423.3" x2="307.5" y2="436.0" />
<line class="l" x1="405.5" y1="510.5" x2="396.5" y2="504.5" />
<line class="l" x1="409.5" y1="510.5" x2="404.0" y2="497.5" />
</svg>
</body></html>
